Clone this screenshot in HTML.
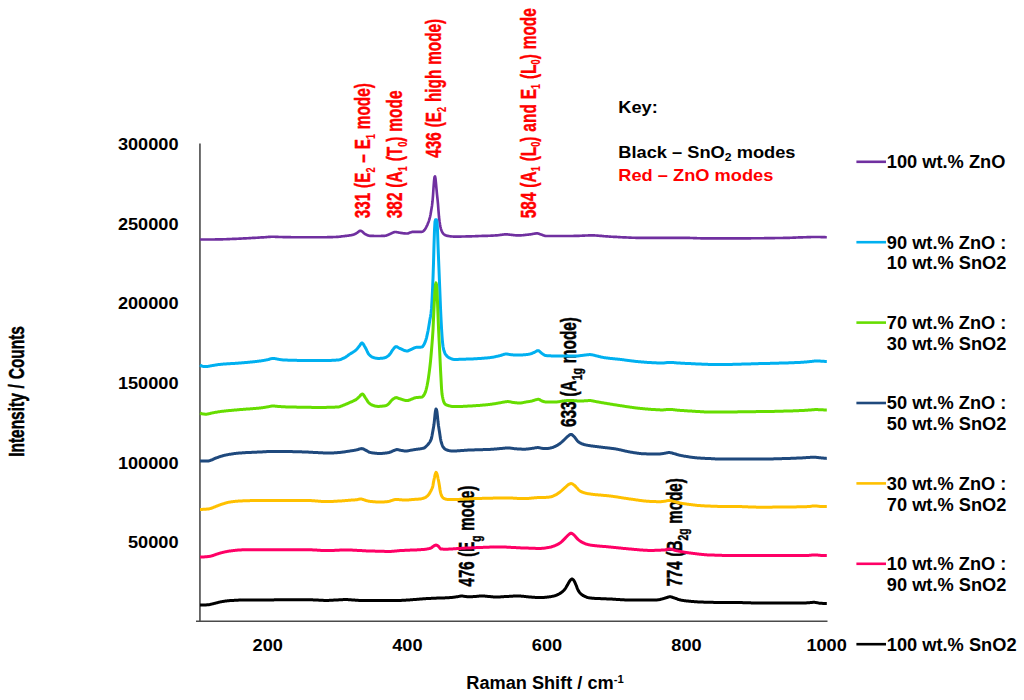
<!DOCTYPE html>
<html><head><meta charset="utf-8"><title>Raman</title>
<style>
html,body{margin:0;padding:0;background:#fff;}
body{width:1024px;height:700px;overflow:hidden;font-family:"Liberation Sans",sans-serif;}
svg{display:block;}
text{font-family:"Liberation Sans",sans-serif;font-weight:bold;}
</style></head><body>
<svg width="1024" height="700" viewBox="0 0 1024 700">
<rect width="1024" height="700" fill="#fff"/>
<line x1="199.95" y1="143.5" x2="199.95" y2="621.5" stroke="#3e3e3e" stroke-width="1.5"/>
<line x1="196" y1="621.3" x2="827.5" y2="621.25" stroke="#4a4a4a" stroke-width="1.4"/>
<text transform="translate(178.5,150.2) scale(1.05,1)" text-anchor="end" font-size="17.3" fill="#000" >300000</text>
<text transform="translate(178.5,229.79999999999998) scale(1.05,1)" text-anchor="end" font-size="17.3" fill="#000" >250000</text>
<text transform="translate(178.5,309.4) scale(1.05,1)" text-anchor="end" font-size="17.3" fill="#000" >200000</text>
<text transform="translate(178.5,389.0) scale(1.05,1)" text-anchor="end" font-size="17.3" fill="#000" >150000</text>
<text transform="translate(178.5,468.59999999999997) scale(1.05,1)" text-anchor="end" font-size="17.3" fill="#000" >100000</text>
<text transform="translate(178.5,548.2) scale(1.05,1)" text-anchor="end" font-size="17.3" fill="#000" >50000</text>
<text transform="translate(267.7,651.4) scale(1.05,1)" text-anchor="middle" font-size="17.3" fill="#000" >200</text>
<text transform="translate(407.4,651.4) scale(1.05,1)" text-anchor="middle" font-size="17.3" fill="#000" >400</text>
<text transform="translate(547,651.4) scale(1.05,1)" text-anchor="middle" font-size="17.3" fill="#000" >600</text>
<text transform="translate(686.5,651.4) scale(1.05,1)" text-anchor="middle" font-size="17.3" fill="#000" >800</text>
<text transform="translate(826.6,651.4) scale(1.05,1)" text-anchor="middle" font-size="17.3" fill="#000" >1000</text>
<text transform="translate(466.3,689.4) scale(0.982,1)" text-anchor="start" font-size="18.5" fill="#000" >Raman Shift / cm<tspan font-size="11.5" dy="-6.5">-1</tspan></text>
<text transform="translate(24.4,456.8) rotate(-90) scale(0.703,1)" font-size="22" fill="#000" stroke="#000" stroke-width="0.5" stroke-linejoin="round" word-spacing="0.8">Intensity / Counts</text>
<text transform="translate(370.0,218.3) rotate(-90) scale(0.7233,1)" font-size="21.2" fill="#FF0000" stroke="#FF0000" stroke-width="0.4" stroke-linejoin="round" word-spacing="0.8">331 (E<tspan font-size="12.5" dy="4.5" stroke-width="0.15">2</tspan><tspan dy="-4.5" font-size="1">&#8203;</tspan> – E<tspan font-size="12.5" dy="4.5" stroke-width="0.15">1</tspan><tspan dy="-4.5" font-size="1">&#8203;</tspan> mode)</text>
<text transform="translate(402.1,218.3) rotate(-90) scale(0.7295,1)" font-size="21.2" fill="#FF0000" stroke="#FF0000" stroke-width="0.4" stroke-linejoin="round" word-spacing="0.8">382 (A<tspan font-size="12.5" dy="4.5" stroke-width="0.15">1</tspan><tspan dy="-4.5" font-size="1">&#8203;</tspan> (T<tspan font-size="12.5" dy="4.5" stroke-width="0.15">0</tspan><tspan dy="-4.5" font-size="1">&#8203;</tspan>) mode</text>
<text transform="translate(441.0,157.7) rotate(-90) scale(0.7233,1)" font-size="21.2" fill="#FF0000" stroke="#FF0000" stroke-width="0.4" stroke-linejoin="round" word-spacing="0.8">436 (E<tspan font-size="12.5" dy="4.5" stroke-width="0.15">2</tspan><tspan dy="-4.5" font-size="1">&#8203;</tspan> high mode)</text>
<text transform="translate(535.8,218.3) rotate(-90) scale(0.7295,1)" font-size="21.2" fill="#FF0000" stroke="#FF0000" stroke-width="0.4" stroke-linejoin="round" word-spacing="0.8">584 (A<tspan font-size="12.5" dy="4.5" stroke-width="0.15">1</tspan><tspan dy="-4.5" font-size="1">&#8203;</tspan> (L<tspan font-size="12.5" dy="4.5" stroke-width="0.15">0</tspan><tspan dy="-4.5" font-size="1">&#8203;</tspan>) and E<tspan font-size="12.5" dy="4.5" stroke-width="0.15">1</tspan><tspan dy="-4.5" font-size="1">&#8203;</tspan> (L<tspan font-size="12.5" dy="4.5" stroke-width="0.15">0</tspan><tspan dy="-4.5" font-size="1">&#8203;</tspan>) mode</text>
<text transform="translate(575.9,427.0) rotate(-90) scale(0.7,1)" font-size="22" fill="#000" stroke="#000" stroke-width="0.5" stroke-linejoin="round" word-spacing="0.8">633 (A<tspan font-size="15" dy="6.3" stroke-width="0.4">1g</tspan><tspan dy="-6.3" font-size="1">&#8203;</tspan> mode)</text>
<text transform="translate(474.2,586.4) rotate(-90) scale(0.682,1)" font-size="22" fill="#000" stroke="#000" stroke-width="0.5" stroke-linejoin="round" word-spacing="0.8">476 (E<tspan font-size="15" dy="6.3" stroke-width="0.4">g</tspan><tspan dy="-6.3" font-size="1">&#8203;</tspan> mode)</text>
<text transform="translate(681.8,586.6) rotate(-90) scale(0.69,1)" font-size="22" fill="#000" stroke="#000" stroke-width="0.5" stroke-linejoin="round" word-spacing="0.8">774 (B<tspan font-size="15" dy="6.3" stroke-width="0.4">2g</tspan><tspan dy="-6.3" font-size="1">&#8203;</tspan> mode)</text>
<path d="M200.0,239.5 L200.5,239.5 L201.0,239.5 L201.5,239.5 L202.0,239.5 L202.5,239.5 L203.0,239.5 L203.5,239.5 L204.0,239.5 L204.5,239.5 L205.0,239.5 L205.5,239.5 L206.0,239.5 L206.5,239.5 L207.0,239.5 L207.5,239.5 L208.0,239.5 L208.5,239.5 L209.0,239.5 L209.5,239.5 L210.0,239.5 L210.5,239.5 L211.0,239.5 L211.5,239.5 L212.0,239.5 L212.5,239.5 L213.0,239.5 L213.5,239.5 L214.0,239.5 L214.5,239.5 L215.0,239.5 L215.5,239.4 L216.0,239.4 L216.5,239.4 L217.0,239.4 L217.5,239.4 L218.0,239.4 L218.5,239.4 L219.0,239.4 L219.5,239.4 L220.0,239.3 L220.5,239.3 L221.0,239.3 L221.5,239.3 L222.0,239.3 L222.5,239.3 L223.0,239.3 L223.5,239.2 L224.0,239.2 L224.5,239.2 L225.0,239.2 L225.5,239.2 L226.0,239.2 L226.5,239.2 L227.0,239.1 L227.5,239.1 L228.0,239.1 L228.5,239.1 L229.0,239.1 L229.5,239.1 L230.0,239.0 L230.5,239.0 L231.0,239.0 L231.5,239.0 L232.0,239.0 L232.5,238.9 L233.0,238.9 L233.5,238.9 L234.0,238.9 L234.5,238.8 L235.0,238.8 L235.5,238.8 L236.0,238.8 L236.5,238.8 L237.0,238.7 L237.5,238.7 L238.0,238.7 L238.5,238.7 L239.0,238.6 L239.5,238.6 L240.0,238.6 L240.5,238.6 L241.0,238.6 L241.5,238.5 L242.0,238.5 L242.5,238.5 L243.0,238.5 L243.5,238.4 L244.0,238.4 L244.5,238.4 L245.0,238.4 L245.5,238.3 L246.0,238.3 L246.5,238.3 L247.0,238.2 L247.5,238.2 L248.0,238.2 L248.5,238.2 L249.0,238.1 L249.5,238.1 L250.0,238.1 L250.5,238.1 L251.0,238.0 L251.5,238.0 L252.0,238.0 L252.5,237.9 L253.0,237.9 L253.5,237.9 L254.0,237.9 L254.5,237.8 L255.0,237.8 L255.5,237.8 L256.0,237.7 L256.5,237.7 L257.0,237.7 L257.5,237.7 L258.0,237.6 L258.5,237.6 L259.0,237.6 L259.5,237.5 L260.0,237.5 L260.5,237.5 L261.0,237.4 L261.5,237.4 L262.0,237.4 L262.5,237.4 L263.0,237.3 L263.5,237.3 L264.0,237.3 L264.5,237.2 L265.0,237.2 L265.5,237.2 L266.0,237.1 L266.5,237.1 L267.0,237.0 L267.5,237.0 L268.0,237.0 L268.5,236.9 L269.0,236.9 L269.5,236.8 L270.0,236.8 L270.5,236.8 L271.0,236.7 L271.5,236.7 L272.0,236.7 L272.5,236.7 L273.0,236.7 L273.5,236.7 L274.0,236.7 L274.5,236.7 L275.0,236.8 L275.5,236.8 L276.0,236.8 L276.5,236.8 L277.0,236.9 L277.5,236.9 L278.0,236.9 L278.5,237.0 L279.0,237.0 L279.5,237.0 L280.0,237.0 L280.5,237.0 L281.0,237.0 L281.5,237.0 L282.0,237.0 L282.5,237.0 L283.0,237.1 L283.5,237.1 L284.0,237.1 L284.5,237.1 L285.0,237.1 L285.5,237.1 L286.0,237.1 L286.5,237.1 L287.0,237.1 L287.5,237.1 L288.0,237.1 L288.5,237.1 L289.0,237.1 L289.5,237.1 L290.0,237.1 L290.5,237.1 L291.0,237.2 L291.5,237.2 L292.0,237.2 L292.5,237.2 L293.0,237.2 L293.5,237.2 L294.0,237.2 L294.5,237.2 L295.0,237.2 L295.5,237.2 L296.0,237.2 L296.5,237.2 L297.0,237.2 L297.5,237.2 L298.0,237.2 L298.5,237.2 L299.0,237.2 L299.5,237.2 L300.0,237.2 L300.5,237.2 L301.0,237.2 L301.5,237.2 L302.0,237.2 L302.5,237.2 L303.0,237.2 L303.5,237.2 L304.0,237.2 L304.5,237.2 L305.0,237.2 L305.5,237.2 L306.0,237.2 L306.5,237.2 L307.0,237.2 L307.5,237.2 L308.0,237.2 L308.5,237.2 L309.0,237.2 L309.5,237.2 L310.0,237.2 L310.5,237.2 L311.0,237.2 L311.5,237.2 L312.0,237.2 L312.5,237.2 L313.0,237.2 L313.5,237.2 L314.0,237.2 L314.5,237.2 L315.0,237.2 L315.5,237.2 L316.0,237.2 L316.5,237.2 L317.0,237.2 L317.5,237.2 L318.0,237.2 L318.5,237.2 L319.0,237.2 L319.5,237.2 L320.0,237.2 L320.5,237.2 L321.0,237.2 L321.5,237.2 L322.0,237.2 L322.5,237.2 L323.0,237.2 L323.5,237.2 L324.0,237.2 L324.5,237.2 L325.0,237.2 L325.5,237.2 L326.0,237.2 L326.5,237.2 L327.0,237.2 L327.5,237.1 L328.0,237.1 L328.5,237.1 L329.0,237.1 L329.5,237.1 L330.0,237.1 L330.5,237.1 L331.0,237.1 L331.5,237.1 L332.0,237.1 L332.5,237.1 L333.0,237.0 L333.5,237.0 L334.0,237.0 L334.5,237.0 L335.0,237.0 L335.5,237.0 L336.0,237.0 L336.5,236.9 L337.0,236.9 L337.5,236.9 L338.0,236.8 L338.5,236.8 L339.0,236.7 L339.5,236.7 L340.0,236.6 L340.5,236.6 L341.0,236.5 L341.5,236.4 L342.0,236.4 L342.5,236.3 L343.0,236.2 L343.5,236.2 L344.0,236.1 L344.5,236.1 L345.0,236.0 L345.5,235.9 L346.0,235.9 L346.5,235.8 L347.0,235.8 L347.5,235.7 L348.0,235.6 L348.5,235.6 L349.0,235.5 L349.5,235.4 L350.0,235.4 L350.5,235.3 L351.0,235.2 L351.5,235.1 L352.0,235.0 L352.5,234.9 L353.0,234.7 L353.5,234.6 L354.0,234.4 L354.5,234.2 L355.0,234.0 L355.5,233.7 L356.0,233.5 L356.5,233.2 L357.0,232.9 L357.5,232.5 L358.0,232.1 L358.5,231.7 L359.0,231.3 L359.5,231.0 L360.0,230.8 L360.5,230.8 L361.0,230.8 L361.5,231.1 L362.0,231.4 L362.5,231.9 L363.0,232.3 L363.5,232.8 L364.0,233.3 L364.5,233.7 L365.0,234.0 L365.5,234.2 L366.0,234.5 L366.5,234.7 L367.0,235.0 L367.5,235.2 L368.0,235.4 L368.5,235.5 L369.0,235.7 L369.5,235.8 L370.0,235.8 L370.5,235.8 L371.0,235.8 L371.5,235.9 L372.0,235.9 L372.5,235.9 L373.0,235.9 L373.5,235.9 L374.0,236.0 L374.5,236.0 L375.0,236.0 L375.5,236.0 L376.0,236.0 L376.5,236.0 L377.0,236.0 L377.5,236.0 L378.0,236.0 L378.5,236.0 L379.0,236.0 L379.5,236.0 L380.0,236.0 L380.5,236.0 L381.0,236.0 L381.5,235.9 L382.0,235.9 L382.5,235.9 L383.0,235.9 L383.5,235.9 L384.0,235.8 L384.5,235.8 L385.0,235.8 L385.5,235.7 L386.0,235.6 L386.5,235.5 L387.0,235.3 L387.5,235.1 L388.0,234.9 L388.5,234.6 L389.0,234.4 L389.5,234.2 L390.0,234.0 L390.5,233.8 L391.0,233.6 L391.5,233.3 L392.0,233.1 L392.5,232.9 L393.0,232.6 L393.5,232.4 L394.0,232.3 L394.5,232.1 L395.0,232.0 L395.5,232.0 L396.0,232.0 L396.5,232.1 L397.0,232.2 L397.5,232.3 L398.0,232.4 L398.5,232.5 L399.0,232.6 L399.5,232.7 L400.0,232.8 L400.5,232.9 L401.0,232.9 L401.5,233.0 L402.0,233.1 L402.5,233.1 L403.0,233.2 L403.5,233.3 L404.0,233.3 L404.5,233.4 L405.0,233.4 L405.5,233.5 L406.0,233.5 L406.5,233.5 L407.0,233.5 L407.5,233.5 L408.0,233.4 L408.5,233.2 L409.0,233.0 L409.5,232.8 L410.0,232.6 L410.5,232.4 L411.0,232.2 L411.5,232.1 L412.0,232.0 L412.5,231.9 L413.0,231.9 L413.5,231.8 L414.0,231.8 L414.5,231.8 L415.0,231.8 L415.5,231.8 L416.0,231.8 L416.5,231.8 L417.0,231.8 L417.5,231.9 L418.0,231.9 L418.5,231.9 L419.0,231.9 L419.5,231.9 L420.0,231.9 L420.5,231.9 L421.0,231.9 L421.5,231.8 L422.0,231.8 L422.5,231.7 L423.0,231.4 L423.5,231.0 L424.0,230.5 L424.5,230.0 L425.0,229.3 L425.5,228.5 L426.0,227.6 L426.5,226.7 L427.0,225.7 L427.5,224.6 L428.0,223.3 L428.5,222.0 L429.0,220.6 L429.5,219.0 L430.0,217.1 L430.5,214.7 L431.0,211.8 L431.5,208.8 L432.0,205.7 L432.5,201.5 L433.0,195.6 L433.5,188.0 L434.0,181.5 L434.5,177.2 L435.0,176.3 L435.5,178.6 L436.0,183.6 L436.5,189.1 L437.0,194.3 L437.5,199.0 L438.0,204.2 L438.5,210.9 L439.0,217.0 L439.5,221.2 L440.0,224.4 L440.5,227.0 L441.0,229.1 L441.5,230.5 L442.0,231.6 L442.5,232.5 L443.0,233.3 L443.5,233.9 L444.0,234.4 L444.5,234.7 L445.0,235.1 L445.5,235.3 L446.0,235.5 L446.5,235.6 L447.0,235.8 L447.5,235.8 L448.0,235.9 L448.5,236.0 L449.0,236.1 L449.5,236.2 L450.0,236.3 L450.5,236.4 L451.0,236.4 L451.5,236.5 L452.0,236.5 L452.5,236.5 L453.0,236.5 L453.5,236.6 L454.0,236.6 L454.5,236.6 L455.0,236.6 L455.5,236.6 L456.0,236.6 L456.5,236.6 L457.0,236.6 L457.5,236.6 L458.0,236.6 L458.5,236.6 L459.0,236.6 L459.5,236.6 L460.0,236.6 L460.5,236.6 L461.0,236.6 L461.5,236.5 L462.0,236.5 L462.5,236.5 L463.0,236.5 L463.5,236.5 L464.0,236.5 L464.5,236.5 L465.0,236.5 L465.5,236.5 L466.0,236.4 L466.5,236.4 L467.0,236.4 L467.5,236.4 L468.0,236.4 L468.5,236.4 L469.0,236.4 L469.5,236.3 L470.0,236.3 L470.5,236.3 L471.0,236.3 L471.5,236.3 L472.0,236.3 L472.5,236.2 L473.0,236.2 L473.5,236.2 L474.0,236.2 L474.5,236.2 L475.0,236.2 L475.5,236.1 L476.0,236.1 L476.5,236.1 L477.0,236.1 L477.5,236.1 L478.0,236.1 L478.5,236.0 L479.0,236.0 L479.5,236.0 L480.0,236.0 L480.5,236.0 L481.0,236.0 L481.5,236.0 L482.0,235.9 L482.5,235.9 L483.0,235.9 L483.5,235.9 L484.0,235.9 L484.5,235.9 L485.0,235.8 L485.5,235.8 L486.0,235.8 L486.5,235.8 L487.0,235.8 L487.5,235.8 L488.0,235.8 L488.5,235.7 L489.0,235.7 L489.5,235.7 L490.0,235.7 L490.5,235.7 L491.0,235.6 L491.5,235.6 L492.0,235.6 L492.5,235.6 L493.0,235.6 L493.5,235.5 L494.0,235.5 L494.5,235.5 L495.0,235.5 L495.5,235.4 L496.0,235.4 L496.5,235.4 L497.0,235.3 L497.5,235.3 L498.0,235.2 L498.5,235.2 L499.0,235.1 L499.5,235.0 L500.0,235.0 L500.5,234.9 L501.0,234.8 L501.5,234.8 L502.0,234.7 L502.5,234.6 L503.0,234.6 L503.5,234.5 L504.0,234.5 L504.5,234.4 L505.0,234.4 L505.5,234.4 L506.0,234.4 L506.5,234.4 L507.0,234.4 L507.5,234.4 L508.0,234.5 L508.5,234.5 L509.0,234.6 L509.5,234.6 L510.0,234.7 L510.5,234.7 L511.0,234.8 L511.5,234.8 L512.0,234.9 L512.5,235.0 L513.0,235.0 L513.5,235.1 L514.0,235.1 L514.5,235.2 L515.0,235.2 L515.5,235.3 L516.0,235.3 L516.5,235.4 L517.0,235.4 L517.5,235.4 L518.0,235.4 L518.5,235.4 L519.0,235.4 L519.5,235.4 L520.0,235.4 L520.5,235.3 L521.0,235.3 L521.5,235.3 L522.0,235.2 L522.5,235.2 L523.0,235.2 L523.5,235.1 L524.0,235.1 L524.5,235.0 L525.0,235.0 L525.5,234.9 L526.0,234.9 L526.5,234.8 L527.0,234.7 L527.5,234.7 L528.0,234.6 L528.5,234.6 L529.0,234.5 L529.5,234.5 L530.0,234.4 L530.5,234.3 L531.0,234.3 L531.5,234.2 L532.0,234.1 L532.5,234.0 L533.0,233.9 L533.5,233.8 L534.0,233.7 L534.5,233.6 L535.0,233.6 L535.5,233.5 L536.0,233.4 L536.5,233.4 L537.0,233.4 L537.5,233.4 L538.0,233.5 L538.5,233.6 L539.0,233.8 L539.5,234.0 L540.0,234.2 L540.5,234.3 L541.0,234.5 L541.5,234.7 L542.0,234.8 L542.5,235.0 L543.0,235.2 L543.5,235.4 L544.0,235.6 L544.5,235.8 L545.0,235.9 L545.5,236.0 L546.0,236.0 L546.5,236.0 L547.0,236.0 L547.5,236.0 L548.0,236.0 L548.5,236.0 L549.0,236.0 L549.5,236.0 L550.0,236.0 L550.5,236.0 L551.0,236.0 L551.5,236.0 L552.0,236.0 L552.5,236.0 L553.0,236.0 L553.5,236.0 L554.0,236.0 L554.5,236.0 L555.0,236.0 L555.5,236.0 L556.0,236.0 L556.5,236.0 L557.0,236.0 L557.5,236.0 L558.0,236.0 L558.5,236.0 L559.0,236.0 L559.5,236.0 L560.0,236.0 L560.5,236.0 L561.0,236.0 L561.5,236.0 L562.0,236.0 L562.5,236.0 L563.0,236.0 L563.5,236.0 L564.0,236.0 L564.5,236.0 L565.0,236.0 L565.5,236.0 L566.0,236.0 L566.5,236.0 L567.0,236.0 L567.5,236.0 L568.0,236.0 L568.5,236.0 L569.0,236.0 L569.5,236.0 L570.0,236.0 L570.5,236.0 L571.0,236.0 L571.5,236.0 L572.0,236.0 L572.5,236.0 L573.0,236.0 L573.5,236.0 L574.0,235.9 L574.5,235.9 L575.0,235.9 L575.5,235.9 L576.0,235.9 L576.5,235.9 L577.0,235.9 L577.5,235.8 L578.0,235.8 L578.5,235.8 L579.0,235.8 L579.5,235.8 L580.0,235.7 L580.5,235.7 L581.0,235.7 L581.5,235.7 L582.0,235.7 L582.5,235.6 L583.0,235.6 L583.5,235.6 L584.0,235.6 L584.5,235.6 L585.0,235.5 L585.5,235.5 L586.0,235.5 L586.5,235.5 L587.0,235.5 L587.5,235.5 L588.0,235.5 L588.5,235.4 L589.0,235.4 L589.5,235.4 L590.0,235.4 L590.5,235.4 L591.0,235.4 L591.5,235.4 L592.0,235.4 L592.5,235.4 L593.0,235.4 L593.5,235.4 L594.0,235.4 L594.5,235.4 L595.0,235.5 L595.5,235.5 L596.0,235.5 L596.5,235.5 L597.0,235.6 L597.5,235.6 L598.0,235.6 L598.5,235.7 L599.0,235.7 L599.5,235.8 L600.0,235.8 L600.5,235.8 L601.0,235.9 L601.5,235.9 L602.0,236.0 L602.5,236.0 L603.0,236.1 L603.5,236.1 L604.0,236.2 L604.5,236.2 L605.0,236.2 L605.5,236.3 L606.0,236.3 L606.5,236.4 L607.0,236.4 L607.5,236.4 L608.0,236.5 L608.5,236.5 L609.0,236.5 L609.5,236.6 L610.0,236.6 L610.5,236.6 L611.0,236.7 L611.5,236.7 L612.0,236.7 L612.5,236.7 L613.0,236.8 L613.5,236.8 L614.0,236.8 L614.5,236.8 L615.0,236.9 L615.5,236.9 L616.0,236.9 L616.5,236.9 L617.0,237.0 L617.5,237.0 L618.0,237.0 L618.5,237.1 L619.0,237.1 L619.5,237.1 L620.0,237.1 L620.5,237.2 L621.0,237.2 L621.5,237.2 L622.0,237.2 L622.5,237.3 L623.0,237.3 L623.5,237.3 L624.0,237.3 L624.5,237.4 L625.0,237.4 L625.5,237.4 L626.0,237.4 L626.5,237.5 L627.0,237.5 L627.5,237.5 L628.0,237.5 L628.5,237.5 L629.0,237.6 L629.5,237.6 L630.0,237.6 L630.5,237.6 L631.0,237.6 L631.5,237.7 L632.0,237.7 L632.5,237.7 L633.0,237.7 L633.5,237.7 L634.0,237.7 L634.5,237.7 L635.0,237.7 L635.5,237.8 L636.0,237.8 L636.5,237.8 L637.0,237.8 L637.5,237.8 L638.0,237.8 L638.5,237.8 L639.0,237.8 L639.5,237.8 L640.0,237.8 L640.5,237.8 L641.0,237.8 L641.5,237.8 L642.0,237.8 L642.5,237.8 L643.0,237.8 L643.5,237.8 L644.0,237.8 L644.5,237.8 L645.0,237.8 L645.5,237.8 L646.0,237.8 L646.5,237.8 L647.0,237.8 L647.5,237.8 L648.0,237.8 L648.5,237.8 L649.0,237.8 L649.5,237.8 L650.0,237.8 L650.5,237.8 L651.0,237.8 L651.5,237.8 L652.0,237.8 L652.5,237.8 L653.0,237.8 L653.5,237.8 L654.0,237.8 L654.5,237.8 L655.0,237.8 L655.5,237.8 L656.0,237.8 L656.5,237.8 L657.0,237.8 L657.5,237.8 L658.0,237.8 L658.5,237.8 L659.0,237.8 L659.5,237.8 L660.0,237.8 L660.5,237.8 L661.0,237.8 L661.5,237.8 L662.0,237.8 L662.5,237.8 L663.0,237.8 L663.5,237.8 L664.0,237.8 L664.5,237.8 L665.0,237.8 L665.5,237.8 L666.0,237.8 L666.5,237.8 L667.0,237.8 L667.5,237.8 L668.0,237.8 L668.5,237.8 L669.0,237.8 L669.5,237.8 L670.0,237.8 L670.5,237.8 L671.0,237.8 L671.5,237.8 L672.0,237.8 L672.5,237.8 L673.0,237.8 L673.5,237.8 L674.0,237.8 L674.5,237.8 L675.0,237.8 L675.5,237.8 L676.0,237.8 L676.5,237.8 L677.0,237.8 L677.5,237.8 L678.0,237.8 L678.5,237.8 L679.0,237.8 L679.5,237.8 L680.0,237.8 L680.5,237.8 L681.0,237.8 L681.5,237.8 L682.0,237.8 L682.5,237.8 L683.0,237.8 L683.5,237.8 L684.0,237.8 L684.5,237.8 L685.0,237.8 L685.5,237.9 L686.0,237.9 L686.5,237.9 L687.0,237.9 L687.5,237.9 L688.0,237.9 L688.5,237.9 L689.0,237.9 L689.5,237.9 L690.0,238.0 L690.5,238.0 L691.0,238.0 L691.5,238.0 L692.0,238.0 L692.5,238.0 L693.0,238.0 L693.5,238.1 L694.0,238.1 L694.5,238.1 L695.0,238.1 L695.5,238.1 L696.0,238.1 L696.5,238.1 L697.0,238.2 L697.5,238.2 L698.0,238.2 L698.5,238.2 L699.0,238.2 L699.5,238.2 L700.0,238.2 L700.5,238.3 L701.0,238.3 L701.5,238.3 L702.0,238.3 L702.5,238.3 L703.0,238.3 L703.5,238.3 L704.0,238.3 L704.5,238.3 L705.0,238.4 L705.5,238.4 L706.0,238.4 L706.5,238.4 L707.0,238.4 L707.5,238.4 L708.0,238.4 L708.5,238.4 L709.0,238.4 L709.5,238.4 L710.0,238.4 L710.5,238.4 L711.0,238.4 L711.5,238.4 L712.0,238.4 L712.5,238.4 L713.0,238.4 L713.5,238.4 L714.0,238.4 L714.5,238.4 L715.0,238.4 L715.5,238.4 L716.0,238.4 L716.5,238.4 L717.0,238.4 L717.5,238.4 L718.0,238.4 L718.5,238.4 L719.0,238.4 L719.5,238.4 L720.0,238.4 L720.5,238.4 L721.0,238.4 L721.5,238.4 L722.0,238.4 L722.5,238.4 L723.0,238.4 L723.5,238.4 L724.0,238.4 L724.5,238.4 L725.0,238.4 L725.5,238.4 L726.0,238.4 L726.5,238.4 L727.0,238.4 L727.5,238.4 L728.0,238.4 L728.5,238.4 L729.0,238.4 L729.5,238.4 L730.0,238.4 L730.5,238.4 L731.0,238.4 L731.5,238.4 L732.0,238.4 L732.5,238.4 L733.0,238.4 L733.5,238.3 L734.0,238.3 L734.5,238.3 L735.0,238.3 L735.5,238.3 L736.0,238.3 L736.5,238.3 L737.0,238.3 L737.5,238.3 L738.0,238.3 L738.5,238.3 L739.0,238.3 L739.5,238.3 L740.0,238.3 L740.5,238.3 L741.0,238.3 L741.5,238.3 L742.0,238.3 L742.5,238.3 L743.0,238.3 L743.5,238.3 L744.0,238.3 L744.5,238.3 L745.0,238.3 L745.5,238.3 L746.0,238.3 L746.5,238.3 L747.0,238.3 L747.5,238.3 L748.0,238.3 L748.5,238.3 L749.0,238.3 L749.5,238.3 L750.0,238.3 L750.5,238.3 L751.0,238.3 L751.5,238.2 L752.0,238.2 L752.5,238.2 L753.0,238.2 L753.5,238.2 L754.0,238.2 L754.5,238.2 L755.0,238.2 L755.5,238.2 L756.0,238.2 L756.5,238.2 L757.0,238.2 L757.5,238.2 L758.0,238.2 L758.5,238.2 L759.0,238.2 L759.5,238.2 L760.0,238.2 L760.5,238.2 L761.0,238.2 L761.5,238.2 L762.0,238.2 L762.5,238.2 L763.0,238.2 L763.5,238.2 L764.0,238.2 L764.5,238.1 L765.0,238.1 L765.5,238.1 L766.0,238.1 L766.5,238.1 L767.0,238.1 L767.5,238.1 L768.0,238.1 L768.5,238.1 L769.0,238.1 L769.5,238.1 L770.0,238.1 L770.5,238.1 L771.0,238.1 L771.5,238.1 L772.0,238.1 L772.5,238.1 L773.0,238.1 L773.5,238.1 L774.0,238.1 L774.5,238.1 L775.0,238.0 L775.5,238.0 L776.0,238.0 L776.5,238.0 L777.0,238.0 L777.5,238.0 L778.0,238.0 L778.5,238.0 L779.0,238.0 L779.5,238.0 L780.0,238.0 L780.5,238.0 L781.0,238.0 L781.5,238.0 L782.0,238.0 L782.5,238.0 L783.0,238.0 L783.5,237.9 L784.0,237.9 L784.5,237.9 L785.0,237.9 L785.5,237.9 L786.0,237.9 L786.5,237.9 L787.0,237.9 L787.5,237.8 L788.0,237.8 L788.5,237.8 L789.0,237.8 L789.5,237.8 L790.0,237.8 L790.5,237.7 L791.0,237.7 L791.5,237.7 L792.0,237.7 L792.5,237.7 L793.0,237.6 L793.5,237.6 L794.0,237.6 L794.5,237.6 L795.0,237.6 L795.5,237.6 L796.0,237.5 L796.5,237.5 L797.0,237.5 L797.5,237.5 L798.0,237.5 L798.5,237.4 L799.0,237.4 L799.5,237.4 L800.0,237.4 L800.5,237.4 L801.0,237.3 L801.5,237.3 L802.0,237.3 L802.5,237.3 L803.0,237.3 L803.5,237.2 L804.0,237.2 L804.5,237.2 L805.0,237.2 L805.5,237.2 L806.0,237.2 L806.5,237.2 L807.0,237.1 L807.5,237.1 L808.0,237.1 L808.5,237.1 L809.0,237.1 L809.5,237.1 L810.0,237.1 L810.5,237.1 L811.0,237.0 L811.5,237.0 L812.0,237.0 L812.5,237.0 L813.0,237.0 L813.5,237.0 L814.0,237.0 L814.5,237.0 L815.0,237.0 L815.5,237.0 L816.0,237.0 L816.5,237.0 L817.0,237.0 L817.5,237.0 L818.0,237.0 L818.5,237.0 L819.0,237.0 L819.5,237.0 L820.0,237.0 L820.5,237.0 L821.0,237.1 L821.5,237.1 L822.0,237.1 L822.5,237.1 L823.0,237.1 L823.5,237.1 L824.0,237.1 L824.5,237.1 L825.0,237.1 L825.5,237.2 L826.0,237.2 L826.5,237.2 L826.8,237.2" fill="none" stroke="#7030A0" stroke-width="2.65" stroke-linejoin="round" stroke-linecap="butt"/>
<path d="M200.0,365.0 L200.5,365.3 L201.0,365.6 L201.5,365.9 L202.0,366.1 L202.5,366.3 L203.0,366.4 L203.5,366.5 L204.0,366.5 L204.5,366.5 L205.0,366.6 L205.5,366.6 L206.0,366.6 L206.5,366.6 L207.0,366.5 L207.5,366.5 L208.0,366.4 L208.5,366.3 L209.0,366.2 L209.5,366.1 L210.0,366.0 L210.5,365.9 L211.0,365.8 L211.5,365.7 L212.0,365.6 L212.5,365.5 L213.0,365.4 L213.5,365.4 L214.0,365.3 L214.5,365.2 L215.0,365.1 L215.5,365.0 L216.0,364.9 L216.5,364.9 L217.0,364.8 L217.5,364.7 L218.0,364.6 L218.5,364.6 L219.0,364.5 L219.5,364.5 L220.0,364.4 L220.5,364.4 L221.0,364.3 L221.5,364.3 L222.0,364.2 L222.5,364.2 L223.0,364.1 L223.5,364.1 L224.0,364.0 L224.5,364.0 L225.0,364.0 L225.5,363.9 L226.0,363.9 L226.5,363.9 L227.0,363.8 L227.5,363.8 L228.0,363.8 L228.5,363.7 L229.0,363.7 L229.5,363.7 L230.0,363.7 L230.5,363.6 L231.0,363.6 L231.5,363.6 L232.0,363.5 L232.5,363.5 L233.0,363.5 L233.5,363.4 L234.0,363.4 L234.5,363.4 L235.0,363.4 L235.5,363.3 L236.0,363.3 L236.5,363.3 L237.0,363.2 L237.5,363.2 L238.0,363.2 L238.5,363.1 L239.0,363.1 L239.5,363.0 L240.0,363.0 L240.5,363.0 L241.0,362.9 L241.5,362.9 L242.0,362.8 L242.5,362.8 L243.0,362.8 L243.5,362.7 L244.0,362.7 L244.5,362.6 L245.0,362.6 L245.5,362.5 L246.0,362.5 L246.5,362.4 L247.0,362.4 L247.5,362.4 L248.0,362.3 L248.5,362.3 L249.0,362.2 L249.5,362.2 L250.0,362.1 L250.5,362.1 L251.0,362.0 L251.5,362.0 L252.0,361.9 L252.5,361.9 L253.0,361.8 L253.5,361.8 L254.0,361.7 L254.5,361.7 L255.0,361.6 L255.5,361.6 L256.0,361.5 L256.5,361.4 L257.0,361.4 L257.5,361.3 L258.0,361.3 L258.5,361.2 L259.0,361.1 L259.5,361.1 L260.0,361.0 L260.5,360.9 L261.0,360.9 L261.5,360.8 L262.0,360.7 L262.5,360.6 L263.0,360.5 L263.5,360.5 L264.0,360.4 L264.5,360.3 L265.0,360.2 L265.5,360.1 L266.0,360.0 L266.5,359.9 L267.0,359.8 L267.5,359.7 L268.0,359.6 L268.5,359.5 L269.0,359.3 L269.5,359.2 L270.0,359.0 L270.5,358.9 L271.0,358.7 L271.5,358.6 L272.0,358.5 L272.5,358.4 L273.0,358.4 L273.5,358.4 L274.0,358.5 L274.5,358.5 L275.0,358.6 L275.5,358.7 L276.0,358.8 L276.5,358.9 L277.0,359.0 L277.5,359.1 L278.0,359.2 L278.5,359.3 L279.0,359.4 L279.5,359.4 L280.0,359.5 L280.5,359.6 L281.0,359.7 L281.5,359.7 L282.0,359.8 L282.5,359.9 L283.0,359.9 L283.5,360.0 L284.0,360.0 L284.5,360.0 L285.0,360.0 L285.5,360.1 L286.0,360.1 L286.5,360.1 L287.0,360.1 L287.5,360.1 L288.0,360.2 L288.5,360.2 L289.0,360.2 L289.5,360.2 L290.0,360.2 L290.5,360.2 L291.0,360.2 L291.5,360.3 L292.0,360.3 L292.5,360.3 L293.0,360.3 L293.5,360.3 L294.0,360.3 L294.5,360.3 L295.0,360.3 L295.5,360.3 L296.0,360.3 L296.5,360.3 L297.0,360.4 L297.5,360.4 L298.0,360.4 L298.5,360.4 L299.0,360.4 L299.5,360.4 L300.0,360.4 L300.5,360.4 L301.0,360.4 L301.5,360.4 L302.0,360.4 L302.5,360.4 L303.0,360.4 L303.5,360.5 L304.0,360.5 L304.5,360.5 L305.0,360.5 L305.5,360.5 L306.0,360.5 L306.5,360.5 L307.0,360.5 L307.5,360.5 L308.0,360.5 L308.5,360.5 L309.0,360.5 L309.5,360.5 L310.0,360.5 L310.5,360.5 L311.0,360.5 L311.5,360.6 L312.0,360.6 L312.5,360.6 L313.0,360.6 L313.5,360.6 L314.0,360.6 L314.5,360.6 L315.0,360.6 L315.5,360.6 L316.0,360.6 L316.5,360.6 L317.0,360.6 L317.5,360.6 L318.0,360.6 L318.5,360.6 L319.0,360.6 L319.5,360.6 L320.0,360.6 L320.5,360.6 L321.0,360.6 L321.5,360.6 L322.0,360.6 L322.5,360.6 L323.0,360.6 L323.5,360.6 L324.0,360.6 L324.5,360.6 L325.0,360.6 L325.5,360.5 L326.0,360.5 L326.5,360.5 L327.0,360.5 L327.5,360.5 L328.0,360.5 L328.5,360.5 L329.0,360.5 L329.5,360.4 L330.0,360.4 L330.5,360.4 L331.0,360.4 L331.5,360.4 L332.0,360.3 L332.5,360.3 L333.0,360.3 L333.5,360.3 L334.0,360.2 L334.5,360.2 L335.0,360.2 L335.5,360.2 L336.0,360.1 L336.5,360.1 L337.0,360.1 L337.5,360.0 L338.0,360.0 L338.5,359.9 L339.0,359.9 L339.5,359.8 L340.0,359.6 L340.5,359.5 L341.0,359.3 L341.5,359.1 L342.0,358.9 L342.5,358.7 L343.0,358.4 L343.5,358.2 L344.0,358.0 L344.5,357.8 L345.0,357.5 L345.5,357.2 L346.0,356.9 L346.5,356.5 L347.0,356.2 L347.5,355.8 L348.0,355.4 L348.5,355.1 L349.0,354.7 L349.5,354.3 L350.0,354.0 L350.5,353.7 L351.0,353.4 L351.5,353.1 L352.0,352.8 L352.5,352.5 L353.0,352.2 L353.5,351.8 L354.0,351.5 L354.5,351.2 L355.0,350.8 L355.5,350.4 L356.0,350.0 L356.5,349.5 L357.0,349.0 L357.5,348.4 L358.0,347.7 L358.5,347.1 L359.0,346.5 L359.5,345.8 L360.0,345.1 L360.5,344.3 L361.0,343.6 L361.5,343.2 L362.0,343.0 L362.5,343.2 L363.0,343.7 L363.5,344.4 L364.0,345.3 L364.5,346.2 L365.0,347.0 L365.5,347.9 L366.0,348.8 L366.5,349.9 L367.0,351.0 L367.5,352.1 L368.0,353.0 L368.5,353.9 L369.0,354.5 L369.5,355.0 L370.0,355.5 L370.5,355.9 L371.0,356.3 L371.5,356.7 L372.0,357.0 L372.5,357.2 L373.0,357.4 L373.5,357.6 L374.0,357.7 L374.5,357.9 L375.0,358.0 L375.5,358.1 L376.0,358.2 L376.5,358.3 L377.0,358.3 L377.5,358.4 L378.0,358.4 L378.5,358.4 L379.0,358.4 L379.5,358.4 L380.0,358.4 L380.5,358.3 L381.0,358.3 L381.5,358.3 L382.0,358.2 L382.5,358.2 L383.0,358.1 L383.5,358.1 L384.0,358.0 L384.5,357.9 L385.0,357.7 L385.5,357.5 L386.0,357.3 L386.5,357.0 L387.0,356.7 L387.5,356.3 L388.0,356.0 L388.5,355.6 L389.0,355.1 L389.5,354.6 L390.0,354.0 L390.5,353.3 L391.0,352.6 L391.5,351.7 L392.0,350.9 L392.5,350.2 L393.0,349.5 L393.5,348.9 L394.0,348.2 L394.5,347.6 L395.0,347.1 L395.5,346.7 L396.0,346.6 L396.5,346.7 L397.0,346.8 L397.5,347.1 L398.0,347.3 L398.5,347.7 L399.0,348.0 L399.5,348.3 L400.0,348.5 L400.5,348.7 L401.0,348.9 L401.5,349.2 L402.0,349.4 L402.5,349.7 L403.0,349.9 L403.5,350.1 L404.0,350.3 L404.5,350.5 L405.0,350.7 L405.5,350.8 L406.0,350.9 L406.5,351.0 L407.0,351.0 L407.5,351.0 L408.0,350.8 L408.5,350.7 L409.0,350.4 L409.5,350.2 L410.0,350.0 L410.5,349.7 L411.0,349.5 L411.5,349.3 L412.0,349.0 L412.5,348.8 L413.0,348.5 L413.5,348.3 L414.0,348.0 L414.5,347.8 L415.0,347.6 L415.5,347.5 L416.0,347.4 L416.5,347.3 L417.0,347.3 L417.5,347.3 L418.0,347.3 L418.5,347.2 L419.0,347.2 L419.5,347.2 L420.0,347.2 L420.5,347.2 L421.0,347.1 L421.5,347.1 L422.0,347.0 L422.5,346.7 L423.0,346.1 L423.5,345.3 L424.0,344.5 L424.5,343.5 L425.0,342.4 L425.5,341.0 L426.0,339.5 L426.5,337.8 L427.0,335.7 L427.5,333.4 L428.0,331.0 L428.5,328.3 L429.0,325.3 L429.5,322.2 L430.0,319.3 L430.5,316.6 L431.0,313.4 L431.5,308.9 L432.0,300.6 L432.5,290.0 L433.0,278.3 L433.5,263.3 L434.0,245.0 L434.5,230.1 L435.0,221.7 L435.5,219.8 L436.0,219.8 L436.5,219.8 L437.0,221.7 L437.5,230.2 L438.0,245.0 L438.5,257.7 L439.0,270.0 L439.5,282.5 L440.0,295.1 L440.5,307.7 L441.0,318.6 L441.5,328.0 L442.0,335.9 L442.5,342.0 L443.0,346.2 L443.5,349.0 L444.0,350.8 L444.5,352.2 L445.0,353.4 L445.5,354.3 L446.0,355.0 L446.5,355.6 L447.0,356.1 L447.5,356.6 L448.0,357.0 L448.5,357.4 L449.0,357.7 L449.5,358.0 L450.0,358.2 L450.5,358.4 L451.0,358.6 L451.5,358.8 L452.0,359.0 L452.5,359.2 L453.0,359.3 L453.5,359.4 L454.0,359.4 L454.5,359.4 L455.0,359.4 L455.5,359.4 L456.0,359.4 L456.5,359.4 L457.0,359.4 L457.5,359.4 L458.0,359.4 L458.5,359.4 L459.0,359.3 L459.5,359.3 L460.0,359.3 L460.5,359.3 L461.0,359.3 L461.5,359.3 L462.0,359.3 L462.5,359.3 L463.0,359.2 L463.5,359.2 L464.0,359.2 L464.5,359.2 L465.0,359.2 L465.5,359.2 L466.0,359.1 L466.5,359.1 L467.0,359.1 L467.5,359.1 L468.0,359.1 L468.5,359.1 L469.0,359.0 L469.5,359.0 L470.0,359.0 L470.5,359.0 L471.0,359.0 L471.5,358.9 L472.0,358.9 L472.5,358.9 L473.0,358.9 L473.5,358.9 L474.0,358.8 L474.5,358.8 L475.0,358.8 L475.5,358.8 L476.0,358.7 L476.5,358.7 L477.0,358.7 L477.5,358.6 L478.0,358.6 L478.5,358.6 L479.0,358.6 L479.5,358.5 L480.0,358.5 L480.5,358.4 L481.0,358.4 L481.5,358.4 L482.0,358.3 L482.5,358.3 L483.0,358.3 L483.5,358.2 L484.0,358.2 L484.5,358.1 L485.0,358.1 L485.5,358.0 L486.0,358.0 L486.5,358.0 L487.0,357.9 L487.5,357.9 L488.0,357.8 L488.5,357.8 L489.0,357.7 L489.5,357.7 L490.0,357.6 L490.5,357.5 L491.0,357.5 L491.5,357.4 L492.0,357.3 L492.5,357.2 L493.0,357.2 L493.5,357.1 L494.0,357.0 L494.5,356.9 L495.0,356.8 L495.5,356.6 L496.0,356.5 L496.5,356.4 L497.0,356.3 L497.5,356.2 L498.0,356.1 L498.5,356.0 L499.0,355.8 L499.5,355.7 L500.0,355.6 L500.5,355.5 L501.0,355.3 L501.5,355.2 L502.0,355.0 L502.5,354.8 L503.0,354.6 L503.5,354.5 L504.0,354.3 L504.5,354.2 L505.0,354.1 L505.5,354.0 L506.0,354.0 L506.5,354.0 L507.0,354.1 L507.5,354.1 L508.0,354.2 L508.5,354.3 L509.0,354.4 L509.5,354.5 L510.0,354.5 L510.5,354.6 L511.0,354.7 L511.5,354.8 L512.0,354.8 L512.5,354.8 L513.0,354.9 L513.5,354.9 L514.0,354.9 L514.5,354.9 L515.0,354.9 L515.5,355.0 L516.0,355.0 L516.5,355.0 L517.0,355.0 L517.5,355.0 L518.0,355.0 L518.5,355.0 L519.0,355.0 L519.5,355.0 L520.0,355.0 L520.5,355.0 L521.0,354.9 L521.5,354.9 L522.0,354.9 L522.5,354.9 L523.0,354.9 L523.5,354.8 L524.0,354.8 L524.5,354.8 L525.0,354.7 L525.5,354.7 L526.0,354.6 L526.5,354.6 L527.0,354.5 L527.5,354.4 L528.0,354.4 L528.5,354.3 L529.0,354.2 L529.5,354.1 L530.0,354.0 L530.5,353.9 L531.0,353.7 L531.5,353.6 L532.0,353.4 L532.5,353.1 L533.0,352.9 L533.5,352.7 L534.0,352.5 L534.5,352.3 L535.0,352.0 L535.5,351.7 L536.0,351.3 L536.5,351.1 L537.0,350.8 L537.5,350.7 L538.0,350.6 L538.5,350.7 L539.0,350.9 L539.5,351.3 L540.0,351.7 L540.5,352.2 L541.0,352.7 L541.5,353.1 L542.0,353.5 L542.5,353.8 L543.0,354.2 L543.5,354.5 L544.0,354.8 L544.5,355.1 L545.0,355.3 L545.5,355.5 L546.0,355.6 L546.5,355.6 L547.0,355.7 L547.5,355.7 L548.0,355.7 L548.5,355.7 L549.0,355.8 L549.5,355.8 L550.0,355.8 L550.5,355.8 L551.0,355.9 L551.5,355.9 L552.0,355.9 L552.5,355.9 L553.0,355.9 L553.5,355.9 L554.0,355.9 L554.5,355.9 L555.0,356.0 L555.5,356.0 L556.0,356.0 L556.5,356.0 L557.0,356.0 L557.5,356.0 L558.0,356.0 L558.5,356.0 L559.0,356.0 L559.5,356.0 L560.0,356.0 L560.5,356.0 L561.0,356.0 L561.5,356.0 L562.0,356.0 L562.5,356.0 L563.0,356.0 L563.5,356.0 L564.0,356.0 L564.5,356.0 L565.0,356.0 L565.5,356.0 L566.0,356.0 L566.5,356.0 L567.0,356.0 L567.5,356.0 L568.0,356.0 L568.5,356.0 L569.0,356.0 L569.5,356.0 L570.0,356.0 L570.5,356.0 L571.0,356.0 L571.5,356.0 L572.0,356.0 L572.5,356.0 L573.0,356.0 L573.5,356.0 L574.0,356.0 L574.5,356.0 L575.0,356.0 L575.5,356.0 L576.0,356.0 L576.5,356.0 L577.0,356.0 L577.5,355.9 L578.0,355.9 L578.5,355.9 L579.0,355.8 L579.5,355.8 L580.0,355.7 L580.5,355.6 L581.0,355.6 L581.5,355.5 L582.0,355.4 L582.5,355.4 L583.0,355.3 L583.5,355.3 L584.0,355.2 L584.5,355.1 L585.0,355.1 L585.5,355.0 L586.0,355.0 L586.5,354.9 L587.0,354.8 L587.5,354.8 L588.0,354.7 L588.5,354.7 L589.0,354.6 L589.5,354.6 L590.0,354.6 L590.5,354.6 L591.0,354.7 L591.5,354.7 L592.0,354.8 L592.5,354.9 L593.0,355.0 L593.5,355.1 L594.0,355.2 L594.5,355.4 L595.0,355.5 L595.5,355.6 L596.0,355.8 L596.5,355.9 L597.0,356.0 L597.5,356.1 L598.0,356.2 L598.5,356.3 L599.0,356.5 L599.5,356.6 L600.0,356.7 L600.5,356.8 L601.0,357.0 L601.5,357.1 L602.0,357.2 L602.5,357.3 L603.0,357.4 L603.5,357.5 L604.0,357.6 L604.5,357.7 L605.0,357.8 L605.5,357.8 L606.0,357.9 L606.5,358.0 L607.0,358.0 L607.5,358.1 L608.0,358.1 L608.5,358.2 L609.0,358.3 L609.5,358.3 L610.0,358.4 L610.5,358.4 L611.0,358.5 L611.5,358.5 L612.0,358.6 L612.5,358.6 L613.0,358.7 L613.5,358.7 L614.0,358.8 L614.5,358.8 L615.0,358.9 L615.5,358.9 L616.0,359.0 L616.5,359.0 L617.0,359.1 L617.5,359.1 L618.0,359.2 L618.5,359.2 L619.0,359.3 L619.5,359.3 L620.0,359.4 L620.5,359.5 L621.0,359.5 L621.5,359.6 L622.0,359.6 L622.5,359.7 L623.0,359.8 L623.5,359.8 L624.0,359.9 L624.5,360.0 L625.0,360.0 L625.5,360.1 L626.0,360.2 L626.5,360.2 L627.0,360.3 L627.5,360.4 L628.0,360.4 L628.5,360.5 L629.0,360.5 L629.5,360.6 L630.0,360.7 L630.5,360.7 L631.0,360.8 L631.5,360.9 L632.0,360.9 L632.5,361.0 L633.0,361.1 L633.5,361.1 L634.0,361.2 L634.5,361.2 L635.0,361.3 L635.5,361.4 L636.0,361.4 L636.5,361.5 L637.0,361.5 L637.5,361.6 L638.0,361.6 L638.5,361.7 L639.0,361.7 L639.5,361.8 L640.0,361.8 L640.5,361.8 L641.0,361.9 L641.5,361.9 L642.0,362.0 L642.5,362.0 L643.0,362.0 L643.5,362.1 L644.0,362.1 L644.5,362.2 L645.0,362.2 L645.5,362.2 L646.0,362.3 L646.5,362.3 L647.0,362.4 L647.5,362.4 L648.0,362.4 L648.5,362.5 L649.0,362.5 L649.5,362.5 L650.0,362.5 L650.5,362.6 L651.0,362.6 L651.5,362.6 L652.0,362.7 L652.5,362.7 L653.0,362.7 L653.5,362.7 L654.0,362.8 L654.5,362.8 L655.0,362.8 L655.5,362.8 L656.0,362.8 L656.5,362.9 L657.0,362.9 L657.5,362.9 L658.0,362.9 L658.5,362.9 L659.0,362.9 L659.5,363.0 L660.0,363.0 L660.5,363.0 L661.0,363.0 L661.5,363.0 L662.0,363.0 L662.5,363.0 L663.0,363.0 L663.5,362.9 L664.0,362.9 L664.5,362.9 L665.0,362.8 L665.5,362.8 L666.0,362.7 L666.5,362.6 L667.0,362.6 L667.5,362.5 L668.0,362.5 L668.5,362.5 L669.0,362.4 L669.5,362.4 L670.0,362.4 L670.5,362.4 L671.0,362.4 L671.5,362.4 L672.0,362.5 L672.5,362.5 L673.0,362.5 L673.5,362.6 L674.0,362.6 L674.5,362.7 L675.0,362.7 L675.5,362.8 L676.0,362.8 L676.5,362.9 L677.0,362.9 L677.5,363.0 L678.0,363.0 L678.5,363.0 L679.0,363.1 L679.5,363.1 L680.0,363.1 L680.5,363.1 L681.0,363.2 L681.5,363.2 L682.0,363.2 L682.5,363.2 L683.0,363.3 L683.5,363.3 L684.0,363.3 L684.5,363.3 L685.0,363.4 L685.5,363.4 L686.0,363.4 L686.5,363.4 L687.0,363.5 L687.5,363.5 L688.0,363.5 L688.5,363.5 L689.0,363.6 L689.5,363.6 L690.0,363.6 L690.5,363.6 L691.0,363.6 L691.5,363.7 L692.0,363.7 L692.5,363.7 L693.0,363.7 L693.5,363.8 L694.0,363.8 L694.5,363.8 L695.0,363.8 L695.5,363.9 L696.0,363.9 L696.5,363.9 L697.0,363.9 L697.5,364.0 L698.0,364.0 L698.5,364.0 L699.0,364.0 L699.5,364.1 L700.0,364.1 L700.5,364.1 L701.0,364.1 L701.5,364.1 L702.0,364.2 L702.5,364.2 L703.0,364.2 L703.5,364.2 L704.0,364.2 L704.5,364.3 L705.0,364.3 L705.5,364.3 L706.0,364.3 L706.5,364.3 L707.0,364.3 L707.5,364.3 L708.0,364.4 L708.5,364.4 L709.0,364.4 L709.5,364.4 L710.0,364.4 L710.5,364.4 L711.0,364.4 L711.5,364.4 L712.0,364.4 L712.5,364.4 L713.0,364.4 L713.5,364.5 L714.0,364.5 L714.5,364.5 L715.0,364.5 L715.5,364.5 L716.0,364.5 L716.5,364.5 L717.0,364.5 L717.5,364.5 L718.0,364.5 L718.5,364.5 L719.0,364.5 L719.5,364.5 L720.0,364.5 L720.5,364.5 L721.0,364.5 L721.5,364.5 L722.0,364.5 L722.5,364.5 L723.0,364.5 L723.5,364.5 L724.0,364.5 L724.5,364.5 L725.0,364.5 L725.5,364.5 L726.0,364.5 L726.5,364.5 L727.0,364.5 L727.5,364.4 L728.0,364.4 L728.5,364.4 L729.0,364.4 L729.5,364.4 L730.0,364.4 L730.5,364.4 L731.0,364.4 L731.5,364.4 L732.0,364.4 L732.5,364.4 L733.0,364.3 L733.5,364.3 L734.0,364.3 L734.5,364.3 L735.0,364.3 L735.5,364.3 L736.0,364.3 L736.5,364.3 L737.0,364.3 L737.5,364.2 L738.0,364.2 L738.5,364.2 L739.0,364.2 L739.5,364.2 L740.0,364.2 L740.5,364.2 L741.0,364.2 L741.5,364.1 L742.0,364.1 L742.5,364.1 L743.0,364.1 L743.5,364.1 L744.0,364.1 L744.5,364.1 L745.0,364.0 L745.5,364.0 L746.0,364.0 L746.5,364.0 L747.0,364.0 L747.5,364.0 L748.0,363.9 L748.5,363.9 L749.0,363.9 L749.5,363.9 L750.0,363.9 L750.5,363.9 L751.0,363.9 L751.5,363.8 L752.0,363.8 L752.5,363.8 L753.0,363.8 L753.5,363.8 L754.0,363.8 L754.5,363.8 L755.0,363.7 L755.5,363.7 L756.0,363.7 L756.5,363.7 L757.0,363.7 L757.5,363.7 L758.0,363.7 L758.5,363.6 L759.0,363.6 L759.5,363.6 L760.0,363.6 L760.5,363.6 L761.0,363.6 L761.5,363.6 L762.0,363.5 L762.5,363.5 L763.0,363.5 L763.5,363.5 L764.0,363.5 L764.5,363.5 L765.0,363.5 L765.5,363.5 L766.0,363.5 L766.5,363.4 L767.0,363.4 L767.5,363.4 L768.0,363.4 L768.5,363.4 L769.0,363.4 L769.5,363.4 L770.0,363.4 L770.5,363.3 L771.0,363.3 L771.5,363.3 L772.0,363.3 L772.5,363.3 L773.0,363.3 L773.5,363.3 L774.0,363.3 L774.5,363.3 L775.0,363.2 L775.5,363.2 L776.0,363.2 L776.5,363.2 L777.0,363.2 L777.5,363.2 L778.0,363.2 L778.5,363.2 L779.0,363.1 L779.5,363.1 L780.0,363.1 L780.5,363.1 L781.0,363.1 L781.5,363.1 L782.0,363.1 L782.5,363.0 L783.0,363.0 L783.5,363.0 L784.0,363.0 L784.5,363.0 L785.0,363.0 L785.5,363.0 L786.0,362.9 L786.5,362.9 L787.0,362.9 L787.5,362.9 L788.0,362.9 L788.5,362.9 L789.0,362.8 L789.5,362.8 L790.0,362.8 L790.5,362.8 L791.0,362.8 L791.5,362.8 L792.0,362.7 L792.5,362.7 L793.0,362.7 L793.5,362.7 L794.0,362.7 L794.5,362.6 L795.0,362.6 L795.5,362.6 L796.0,362.6 L796.5,362.6 L797.0,362.5 L797.5,362.5 L798.0,362.5 L798.5,362.5 L799.0,362.4 L799.5,362.4 L800.0,362.4 L800.5,362.4 L801.0,362.3 L801.5,362.3 L802.0,362.3 L802.5,362.2 L803.0,362.2 L803.5,362.2 L804.0,362.1 L804.5,362.1 L805.0,362.1 L805.5,362.0 L806.0,362.0 L806.5,361.9 L807.0,361.9 L807.5,361.8 L808.0,361.8 L808.5,361.7 L809.0,361.7 L809.5,361.6 L810.0,361.6 L810.5,361.6 L811.0,361.5 L811.5,361.4 L812.0,361.4 L812.5,361.3 L813.0,361.2 L813.5,361.2 L814.0,361.1 L814.5,361.1 L815.0,361.0 L815.5,361.0 L816.0,361.0 L816.5,361.0 L817.0,361.0 L817.5,361.0 L818.0,361.0 L818.5,361.0 L819.0,361.1 L819.5,361.1 L820.0,361.1 L820.5,361.1 L821.0,361.2 L821.5,361.2 L822.0,361.2 L822.5,361.2 L823.0,361.3 L823.5,361.3 L824.0,361.3 L824.5,361.4 L825.0,361.4 L825.5,361.5 L826.0,361.5 L826.5,361.6 L826.8,361.6" fill="none" stroke="#00B0F0" stroke-width="3.0" stroke-linejoin="round" stroke-linecap="butt"/>
<path d="M200.0,413.0 L200.5,413.2 L201.0,413.4 L201.5,413.6 L202.0,413.8 L202.5,413.9 L203.0,414.0 L203.5,414.1 L204.0,414.1 L204.5,414.1 L205.0,414.2 L205.5,414.2 L206.0,414.2 L206.5,414.2 L207.0,414.1 L207.5,414.1 L208.0,414.0 L208.5,413.9 L209.0,413.7 L209.5,413.6 L210.0,413.5 L210.5,413.3 L211.0,413.2 L211.5,413.1 L212.0,413.0 L212.5,412.9 L213.0,412.8 L213.5,412.7 L214.0,412.6 L214.5,412.5 L215.0,412.4 L215.5,412.3 L216.0,412.2 L216.5,412.2 L217.0,412.1 L217.5,412.0 L218.0,411.9 L218.5,411.8 L219.0,411.7 L219.5,411.7 L220.0,411.6 L220.5,411.5 L221.0,411.5 L221.5,411.4 L222.0,411.3 L222.5,411.3 L223.0,411.2 L223.5,411.2 L224.0,411.1 L224.5,411.1 L225.0,411.0 L225.5,410.9 L226.0,410.9 L226.5,410.8 L227.0,410.8 L227.5,410.7 L228.0,410.7 L228.5,410.6 L229.0,410.6 L229.5,410.5 L230.0,410.5 L230.5,410.4 L231.0,410.4 L231.5,410.4 L232.0,410.3 L232.5,410.3 L233.0,410.2 L233.5,410.2 L234.0,410.1 L234.5,410.1 L235.0,410.0 L235.5,410.0 L236.0,410.0 L236.5,409.9 L237.0,409.9 L237.5,409.8 L238.0,409.8 L238.5,409.7 L239.0,409.7 L239.5,409.6 L240.0,409.6 L240.5,409.6 L241.0,409.5 L241.5,409.5 L242.0,409.4 L242.5,409.4 L243.0,409.4 L243.5,409.3 L244.0,409.3 L244.5,409.2 L245.0,409.2 L245.5,409.2 L246.0,409.1 L246.5,409.1 L247.0,409.1 L247.5,409.0 L248.0,409.0 L248.5,409.0 L249.0,408.9 L249.5,408.9 L250.0,408.9 L250.5,408.8 L251.0,408.8 L251.5,408.7 L252.0,408.7 L252.5,408.7 L253.0,408.6 L253.5,408.6 L254.0,408.6 L254.5,408.5 L255.0,408.5 L255.5,408.4 L256.0,408.4 L256.5,408.3 L257.0,408.3 L257.5,408.3 L258.0,408.2 L258.5,408.2 L259.0,408.1 L259.5,408.1 L260.0,408.0 L260.5,407.9 L261.0,407.9 L261.5,407.8 L262.0,407.7 L262.5,407.7 L263.0,407.6 L263.5,407.5 L264.0,407.4 L264.5,407.4 L265.0,407.3 L265.5,407.2 L266.0,407.1 L266.5,407.0 L267.0,407.0 L267.5,406.9 L268.0,406.8 L268.5,406.7 L269.0,406.6 L269.5,406.5 L270.0,406.4 L270.5,406.3 L271.0,406.2 L271.5,406.1 L272.0,406.1 L272.5,406.0 L273.0,406.0 L273.5,406.0 L274.0,406.0 L274.5,406.1 L275.0,406.1 L275.5,406.2 L276.0,406.2 L276.5,406.3 L277.0,406.3 L277.5,406.4 L278.0,406.4 L278.5,406.4 L279.0,406.5 L279.5,406.5 L280.0,406.6 L280.5,406.6 L281.0,406.6 L281.5,406.7 L282.0,406.7 L282.5,406.7 L283.0,406.8 L283.5,406.8 L284.0,406.8 L284.5,406.8 L285.0,406.8 L285.5,406.9 L286.0,406.9 L286.5,406.9 L287.0,406.9 L287.5,406.9 L288.0,406.9 L288.5,407.0 L289.0,407.0 L289.5,407.0 L290.0,407.0 L290.5,407.0 L291.0,407.0 L291.5,407.0 L292.0,407.0 L292.5,407.1 L293.0,407.1 L293.5,407.1 L294.0,407.1 L294.5,407.1 L295.0,407.1 L295.5,407.1 L296.0,407.1 L296.5,407.1 L297.0,407.2 L297.5,407.2 L298.0,407.2 L298.5,407.2 L299.0,407.2 L299.5,407.2 L300.0,407.2 L300.5,407.2 L301.0,407.2 L301.5,407.2 L302.0,407.2 L302.5,407.2 L303.0,407.2 L303.5,407.3 L304.0,407.3 L304.5,407.3 L305.0,407.3 L305.5,407.3 L306.0,407.3 L306.5,407.3 L307.0,407.3 L307.5,407.3 L308.0,407.3 L308.5,407.3 L309.0,407.3 L309.5,407.3 L310.0,407.3 L310.5,407.3 L311.0,407.3 L311.5,407.4 L312.0,407.4 L312.5,407.4 L313.0,407.4 L313.5,407.4 L314.0,407.4 L314.5,407.4 L315.0,407.4 L315.5,407.4 L316.0,407.4 L316.5,407.4 L317.0,407.4 L317.5,407.4 L318.0,407.4 L318.5,407.4 L319.0,407.4 L319.5,407.4 L320.0,407.4 L320.5,407.4 L321.0,407.4 L321.5,407.4 L322.0,407.4 L322.5,407.4 L323.0,407.4 L323.5,407.4 L324.0,407.4 L324.5,407.4 L325.0,407.4 L325.5,407.4 L326.0,407.4 L326.5,407.4 L327.0,407.3 L327.5,407.3 L328.0,407.3 L328.5,407.3 L329.0,407.3 L329.5,407.3 L330.0,407.3 L330.5,407.3 L331.0,407.3 L331.5,407.2 L332.0,407.2 L332.5,407.2 L333.0,407.2 L333.5,407.2 L334.0,407.2 L334.5,407.2 L335.0,407.1 L335.5,407.1 L336.0,407.1 L336.5,407.1 L337.0,407.0 L337.5,407.0 L338.0,407.0 L338.5,407.0 L339.0,406.9 L339.5,406.8 L340.0,406.6 L340.5,406.4 L341.0,406.2 L341.5,406.0 L342.0,405.8 L342.5,405.6 L343.0,405.4 L343.5,405.2 L344.0,405.0 L344.5,404.8 L345.0,404.6 L345.5,404.4 L346.0,404.2 L346.5,404.0 L347.0,403.8 L347.5,403.5 L348.0,403.3 L348.5,403.1 L349.0,402.9 L349.5,402.6 L350.0,402.4 L350.5,402.2 L351.0,402.0 L351.5,401.8 L352.0,401.6 L352.5,401.3 L353.0,401.1 L353.5,400.9 L354.0,400.7 L354.5,400.4 L355.0,400.2 L355.5,399.9 L356.0,399.6 L356.5,399.3 L357.0,398.8 L357.5,398.4 L358.0,397.9 L358.5,397.5 L359.0,397.0 L359.5,396.5 L360.0,395.9 L360.5,395.4 L361.0,394.8 L361.5,394.4 L362.0,394.1 L362.5,394.0 L363.0,394.3 L363.5,394.8 L364.0,395.6 L364.5,396.4 L365.0,397.2 L365.5,398.0 L366.0,398.7 L366.5,399.5 L367.0,400.3 L367.5,401.1 L368.0,401.9 L368.5,402.5 L369.0,403.0 L369.5,403.4 L370.0,403.8 L370.5,404.2 L371.0,404.5 L371.5,404.8 L372.0,405.0 L372.5,405.2 L373.0,405.4 L373.5,405.6 L374.0,405.7 L374.5,405.8 L375.0,406.0 L375.5,406.1 L376.0,406.2 L376.5,406.3 L377.0,406.3 L377.5,406.4 L378.0,406.4 L378.5,406.4 L379.0,406.4 L379.5,406.4 L380.0,406.3 L380.5,406.3 L381.0,406.3 L381.5,406.2 L382.0,406.2 L382.5,406.1 L383.0,406.1 L383.5,406.0 L384.0,405.9 L384.5,405.9 L385.0,405.8 L385.5,405.7 L386.0,405.6 L386.5,405.4 L387.0,405.2 L387.5,404.8 L388.0,404.4 L388.5,404.0 L389.0,403.5 L389.5,402.9 L390.0,402.3 L390.5,401.6 L391.0,401.0 L391.5,400.5 L392.0,400.0 L392.5,399.5 L393.0,399.1 L393.5,398.8 L394.0,398.5 L394.5,398.2 L395.0,397.9 L395.5,397.7 L396.0,397.6 L396.5,397.6 L397.0,397.7 L397.5,397.9 L398.0,398.1 L398.5,398.3 L399.0,398.5 L399.5,398.6 L400.0,398.8 L400.5,398.9 L401.0,399.1 L401.5,399.3 L402.0,399.4 L402.5,399.6 L403.0,399.8 L403.5,399.9 L404.0,400.1 L404.5,400.2 L405.0,400.4 L405.5,400.5 L406.0,400.5 L406.5,400.6 L407.0,400.6 L407.5,400.6 L408.0,400.5 L408.5,400.3 L409.0,400.2 L409.5,400.0 L410.0,399.8 L410.5,399.6 L411.0,399.4 L411.5,399.2 L412.0,399.0 L412.5,398.8 L413.0,398.6 L413.5,398.4 L414.0,398.2 L414.5,398.0 L415.0,397.8 L415.5,397.7 L416.0,397.6 L416.5,397.5 L417.0,397.5 L417.5,397.4 L418.0,397.4 L418.5,397.4 L419.0,397.3 L419.5,397.3 L420.0,397.3 L420.5,397.2 L421.0,397.2 L421.5,397.1 L422.0,397.0 L422.5,396.8 L423.0,396.3 L423.5,395.7 L424.0,394.9 L424.5,394.0 L425.0,393.0 L425.5,391.8 L426.0,390.1 L426.5,388.2 L427.0,386.0 L427.5,383.5 L428.0,380.7 L428.5,377.5 L429.0,373.9 L429.5,370.1 L430.0,366.0 L430.5,361.4 L431.0,356.0 L431.5,350.2 L432.0,344.0 L432.5,337.6 L433.0,330.0 L433.5,319.1 L434.0,308.0 L434.5,298.4 L435.0,289.9 L435.5,284.5 L436.0,282.9 L436.5,284.4 L437.0,290.9 L437.5,302.1 L438.0,315.1 L438.5,327.7 L439.0,338.3 L439.5,348.0 L440.0,358.5 L440.5,369.2 L441.0,378.7 L441.5,388.0 L442.0,394.0 L442.5,396.8 L443.0,399.1 L443.5,401.0 L444.0,402.4 L444.5,403.4 L445.0,404.0 L445.5,404.4 L446.0,404.7 L446.5,405.0 L447.0,405.2 L447.5,405.4 L448.0,405.5 L448.5,405.7 L449.0,405.8 L449.5,405.9 L450.0,406.0 L450.5,406.1 L451.0,406.3 L451.5,406.4 L452.0,406.4 L452.5,406.5 L453.0,406.6 L453.5,406.6 L454.0,406.6 L454.5,406.6 L455.0,406.6 L455.5,406.6 L456.0,406.6 L456.5,406.6 L457.0,406.6 L457.5,406.6 L458.0,406.5 L458.5,406.5 L459.0,406.5 L459.5,406.5 L460.0,406.5 L460.5,406.5 L461.0,406.4 L461.5,406.4 L462.0,406.4 L462.5,406.4 L463.0,406.4 L463.5,406.3 L464.0,406.3 L464.5,406.3 L465.0,406.3 L465.5,406.2 L466.0,406.2 L466.5,406.2 L467.0,406.2 L467.5,406.1 L468.0,406.1 L468.5,406.1 L469.0,406.1 L469.5,406.0 L470.0,406.0 L470.5,406.0 L471.0,405.9 L471.5,405.9 L472.0,405.9 L472.5,405.9 L473.0,405.8 L473.5,405.8 L474.0,405.8 L474.5,405.7 L475.0,405.7 L475.5,405.7 L476.0,405.6 L476.5,405.6 L477.0,405.6 L477.5,405.5 L478.0,405.5 L478.5,405.5 L479.0,405.4 L479.5,405.4 L480.0,405.4 L480.5,405.3 L481.0,405.3 L481.5,405.2 L482.0,405.2 L482.5,405.1 L483.0,405.1 L483.5,405.1 L484.0,405.0 L484.5,405.0 L485.0,404.9 L485.5,404.9 L486.0,404.8 L486.5,404.8 L487.0,404.7 L487.5,404.7 L488.0,404.6 L488.5,404.6 L489.0,404.5 L489.5,404.5 L490.0,404.4 L490.5,404.3 L491.0,404.3 L491.5,404.2 L492.0,404.1 L492.5,404.1 L493.0,404.0 L493.5,403.9 L494.0,403.8 L494.5,403.7 L495.0,403.7 L495.5,403.6 L496.0,403.5 L496.5,403.4 L497.0,403.3 L497.5,403.2 L498.0,403.1 L498.5,403.0 L499.0,403.0 L499.5,402.9 L500.0,402.8 L500.5,402.7 L501.0,402.6 L501.5,402.5 L502.0,402.4 L502.5,402.3 L503.0,402.2 L503.5,402.1 L504.0,402.0 L504.5,402.0 L505.0,401.9 L505.5,401.8 L506.0,401.7 L506.5,401.7 L507.0,401.6 L507.5,401.6 L508.0,401.6 L508.5,401.6 L509.0,401.7 L509.5,401.7 L510.0,401.8 L510.5,401.9 L511.0,402.0 L511.5,402.1 L512.0,402.3 L512.5,402.4 L513.0,402.5 L513.5,402.5 L514.0,402.6 L514.5,402.6 L515.0,402.7 L515.5,402.7 L516.0,402.8 L516.5,402.8 L517.0,402.9 L517.5,402.9 L518.0,402.9 L518.5,403.0 L519.0,403.0 L519.5,403.0 L520.0,403.0 L520.5,403.0 L521.0,402.9 L521.5,402.9 L522.0,402.8 L522.5,402.7 L523.0,402.6 L523.5,402.5 L524.0,402.4 L524.5,402.3 L525.0,402.2 L525.5,402.1 L526.0,402.0 L526.5,401.9 L527.0,401.8 L527.5,401.8 L528.0,401.7 L528.5,401.6 L529.0,401.5 L529.5,401.5 L530.0,401.4 L530.5,401.3 L531.0,401.2 L531.5,401.1 L532.0,401.0 L532.5,400.9 L533.0,400.7 L533.5,400.5 L534.0,400.3 L534.5,400.1 L535.0,400.0 L535.5,399.9 L536.0,399.7 L536.5,399.6 L537.0,399.5 L537.5,399.4 L538.0,399.3 L538.5,399.3 L539.0,399.4 L539.5,399.6 L540.0,399.9 L540.5,400.2 L541.0,400.5 L541.5,400.8 L542.0,401.0 L542.5,401.2 L543.0,401.3 L543.5,401.5 L544.0,401.7 L544.5,401.8 L545.0,401.9 L545.5,402.0 L546.0,402.0 L546.5,402.0 L547.0,402.0 L547.5,402.0 L548.0,402.0 L548.5,402.0 L549.0,402.0 L549.5,402.0 L550.0,402.0 L550.5,402.0 L551.0,402.0 L551.5,402.0 L552.0,402.0 L552.5,402.0 L553.0,402.0 L553.5,402.0 L554.0,402.0 L554.5,402.0 L555.0,402.0 L555.5,402.0 L556.0,402.0 L556.5,402.0 L557.0,402.0 L557.5,401.9 L558.0,401.8 L558.5,401.8 L559.0,401.7 L559.5,401.6 L560.0,401.5 L560.5,401.4 L561.0,401.3 L561.5,401.2 L562.0,401.1 L562.5,401.1 L563.0,401.0 L563.5,400.9 L564.0,400.9 L564.5,400.8 L565.0,400.8 L565.5,400.7 L566.0,400.7 L566.5,400.6 L567.0,400.6 L567.5,400.5 L568.0,400.5 L568.5,400.4 L569.0,400.4 L569.5,400.4 L570.0,400.4 L570.5,400.4 L571.0,400.4 L571.5,400.4 L572.0,400.5 L572.5,400.5 L573.0,400.5 L573.5,400.6 L574.0,400.6 L574.5,400.7 L575.0,400.7 L575.5,400.7 L576.0,400.8 L576.5,400.8 L577.0,400.9 L577.5,400.9 L578.0,400.9 L578.5,401.0 L579.0,401.0 L579.5,401.0 L580.0,401.0 L580.5,401.0 L581.0,401.0 L581.5,401.0 L582.0,401.0 L582.5,400.9 L583.0,400.9 L583.5,400.9 L584.0,400.9 L584.5,400.8 L585.0,400.8 L585.5,400.8 L586.0,400.7 L586.5,400.7 L587.0,400.7 L587.5,400.7 L588.0,400.6 L588.5,400.6 L589.0,400.6 L589.5,400.6 L590.0,400.6 L590.5,400.6 L591.0,400.6 L591.5,400.7 L592.0,400.8 L592.5,400.9 L593.0,400.9 L593.5,401.1 L594.0,401.2 L594.5,401.3 L595.0,401.4 L595.5,401.5 L596.0,401.6 L596.5,401.7 L597.0,401.8 L597.5,401.9 L598.0,402.0 L598.5,402.1 L599.0,402.1 L599.5,402.2 L600.0,402.3 L600.5,402.4 L601.0,402.5 L601.5,402.6 L602.0,402.7 L602.5,402.7 L603.0,402.8 L603.5,402.9 L604.0,403.0 L604.5,403.1 L605.0,403.2 L605.5,403.3 L606.0,403.3 L606.5,403.4 L607.0,403.5 L607.5,403.6 L608.0,403.7 L608.5,403.8 L609.0,403.8 L609.5,403.9 L610.0,404.0 L610.5,404.1 L611.0,404.2 L611.5,404.3 L612.0,404.3 L612.5,404.4 L613.0,404.5 L613.5,404.6 L614.0,404.7 L614.5,404.7 L615.0,404.8 L615.5,404.9 L616.0,405.0 L616.5,405.1 L617.0,405.1 L617.5,405.2 L618.0,405.3 L618.5,405.4 L619.0,405.4 L619.5,405.5 L620.0,405.6 L620.5,405.7 L621.0,405.8 L621.5,405.8 L622.0,405.9 L622.5,406.0 L623.0,406.1 L623.5,406.1 L624.0,406.2 L624.5,406.3 L625.0,406.4 L625.5,406.4 L626.0,406.5 L626.5,406.6 L627.0,406.7 L627.5,406.8 L628.0,406.8 L628.5,406.9 L629.0,407.0 L629.5,407.1 L630.0,407.1 L630.5,407.2 L631.0,407.3 L631.5,407.3 L632.0,407.4 L632.5,407.5 L633.0,407.6 L633.5,407.6 L634.0,407.7 L634.5,407.8 L635.0,407.8 L635.5,407.9 L636.0,407.9 L636.5,408.0 L637.0,408.1 L637.5,408.1 L638.0,408.2 L638.5,408.2 L639.0,408.3 L639.5,408.3 L640.0,408.4 L640.5,408.5 L641.0,408.5 L641.5,408.5 L642.0,408.6 L642.5,408.6 L643.0,408.7 L643.5,408.7 L644.0,408.8 L644.5,408.8 L645.0,408.9 L645.5,408.9 L646.0,409.0 L646.5,409.0 L647.0,409.0 L647.5,409.1 L648.0,409.1 L648.5,409.2 L649.0,409.2 L649.5,409.2 L650.0,409.3 L650.5,409.3 L651.0,409.4 L651.5,409.4 L652.0,409.4 L652.5,409.5 L653.0,409.5 L653.5,409.5 L654.0,409.5 L654.5,409.6 L655.0,409.6 L655.5,409.6 L656.0,409.7 L656.5,409.7 L657.0,409.7 L657.5,409.7 L658.0,409.8 L658.5,409.8 L659.0,409.8 L659.5,409.8 L660.0,409.9 L660.5,409.9 L661.0,409.9 L661.5,409.9 L662.0,409.9 L662.5,409.9 L663.0,409.9 L663.5,409.9 L664.0,409.8 L664.5,409.8 L665.0,409.7 L665.5,409.7 L666.0,409.6 L666.5,409.6 L667.0,409.6 L667.5,409.5 L668.0,409.5 L668.5,409.4 L669.0,409.4 L669.5,409.4 L670.0,409.4 L670.5,409.4 L671.0,409.4 L671.5,409.5 L672.0,409.5 L672.5,409.5 L673.0,409.6 L673.5,409.7 L674.0,409.7 L674.5,409.8 L675.0,409.9 L675.5,409.9 L676.0,410.0 L676.5,410.0 L677.0,410.1 L677.5,410.2 L678.0,410.2 L678.5,410.2 L679.0,410.3 L679.5,410.3 L680.0,410.4 L680.5,410.4 L681.0,410.4 L681.5,410.5 L682.0,410.5 L682.5,410.5 L683.0,410.6 L683.5,410.6 L684.0,410.6 L684.5,410.7 L685.0,410.7 L685.5,410.7 L686.0,410.8 L686.5,410.8 L687.0,410.8 L687.5,410.9 L688.0,410.9 L688.5,410.9 L689.0,410.9 L689.5,411.0 L690.0,411.0 L690.5,411.0 L691.0,411.1 L691.5,411.1 L692.0,411.1 L692.5,411.2 L693.0,411.2 L693.5,411.2 L694.0,411.3 L694.5,411.3 L695.0,411.3 L695.5,411.4 L696.0,411.4 L696.5,411.4 L697.0,411.5 L697.5,411.5 L698.0,411.5 L698.5,411.6 L699.0,411.6 L699.5,411.6 L700.0,411.6 L700.5,411.7 L701.0,411.7 L701.5,411.7 L702.0,411.8 L702.5,411.8 L703.0,411.8 L703.5,411.8 L704.0,411.9 L704.5,411.9 L705.0,411.9 L705.5,411.9 L706.0,411.9 L706.5,411.9 L707.0,412.0 L707.5,412.0 L708.0,412.0 L708.5,412.0 L709.0,412.0 L709.5,412.0 L710.0,412.0 L710.5,412.0 L711.0,412.0 L711.5,412.0 L712.0,412.0 L712.5,412.0 L713.0,412.0 L713.5,412.0 L714.0,412.0 L714.5,412.0 L715.0,412.0 L715.5,412.0 L716.0,412.0 L716.5,412.0 L717.0,412.0 L717.5,412.0 L718.0,412.0 L718.5,412.0 L719.0,412.0 L719.5,412.0 L720.0,412.0 L720.5,412.0 L721.0,412.0 L721.5,412.0 L722.0,412.0 L722.5,412.0 L723.0,412.0 L723.5,412.0 L724.0,412.0 L724.5,412.0 L725.0,412.0 L725.5,411.9 L726.0,411.9 L726.5,411.9 L727.0,411.9 L727.5,411.9 L728.0,411.9 L728.5,411.9 L729.0,411.9 L729.5,411.9 L730.0,411.9 L730.5,411.9 L731.0,411.9 L731.5,411.9 L732.0,411.9 L732.5,411.9 L733.0,411.9 L733.5,411.9 L734.0,411.9 L734.5,411.9 L735.0,411.9 L735.5,411.9 L736.0,411.9 L736.5,411.9 L737.0,411.9 L737.5,411.9 L738.0,411.8 L738.5,411.8 L739.0,411.8 L739.5,411.8 L740.0,411.8 L740.5,411.8 L741.0,411.8 L741.5,411.8 L742.0,411.8 L742.5,411.8 L743.0,411.8 L743.5,411.8 L744.0,411.8 L744.5,411.8 L745.0,411.8 L745.5,411.8 L746.0,411.8 L746.5,411.8 L747.0,411.8 L747.5,411.7 L748.0,411.7 L748.5,411.7 L749.0,411.7 L749.5,411.7 L750.0,411.7 L750.5,411.7 L751.0,411.7 L751.5,411.7 L752.0,411.7 L752.5,411.7 L753.0,411.7 L753.5,411.7 L754.0,411.7 L754.5,411.7 L755.0,411.7 L755.5,411.7 L756.0,411.6 L756.5,411.6 L757.0,411.6 L757.5,411.6 L758.0,411.6 L758.5,411.6 L759.0,411.6 L759.5,411.6 L760.0,411.6 L760.5,411.6 L761.0,411.6 L761.5,411.6 L762.0,411.6 L762.5,411.6 L763.0,411.6 L763.5,411.6 L764.0,411.5 L764.5,411.5 L765.0,411.5 L765.5,411.5 L766.0,411.5 L766.5,411.5 L767.0,411.5 L767.5,411.5 L768.0,411.5 L768.5,411.5 L769.0,411.5 L769.5,411.5 L770.0,411.4 L770.5,411.4 L771.0,411.4 L771.5,411.4 L772.0,411.4 L772.5,411.4 L773.0,411.4 L773.5,411.4 L774.0,411.4 L774.5,411.4 L775.0,411.3 L775.5,411.3 L776.0,411.3 L776.5,411.3 L777.0,411.3 L777.5,411.3 L778.0,411.3 L778.5,411.3 L779.0,411.3 L779.5,411.2 L780.0,411.2 L780.5,411.2 L781.0,411.2 L781.5,411.2 L782.0,411.2 L782.5,411.2 L783.0,411.2 L783.5,411.1 L784.0,411.1 L784.5,411.1 L785.0,411.1 L785.5,411.1 L786.0,411.1 L786.5,411.1 L787.0,411.0 L787.5,411.0 L788.0,411.0 L788.5,411.0 L789.0,411.0 L789.5,411.0 L790.0,410.9 L790.5,410.9 L791.0,410.9 L791.5,410.9 L792.0,410.9 L792.5,410.9 L793.0,410.9 L793.5,410.8 L794.0,410.8 L794.5,410.8 L795.0,410.8 L795.5,410.8 L796.0,410.7 L796.5,410.7 L797.0,410.7 L797.5,410.7 L798.0,410.7 L798.5,410.7 L799.0,410.6 L799.5,410.6 L800.0,410.6 L800.5,410.6 L801.0,410.6 L801.5,410.5 L802.0,410.5 L802.5,410.5 L803.0,410.5 L803.5,410.4 L804.0,410.4 L804.5,410.4 L805.0,410.3 L805.5,410.3 L806.0,410.3 L806.5,410.2 L807.0,410.2 L807.5,410.2 L808.0,410.1 L808.5,410.1 L809.0,410.1 L809.5,410.0 L810.0,410.0 L810.5,410.0 L811.0,409.9 L811.5,409.9 L812.0,409.8 L812.5,409.8 L813.0,409.8 L813.5,409.7 L814.0,409.7 L814.5,409.6 L815.0,409.6 L815.5,409.6 L816.0,409.6 L816.5,409.6 L817.0,409.6 L817.5,409.6 L818.0,409.6 L818.5,409.7 L819.0,409.7 L819.5,409.7 L820.0,409.7 L820.5,409.7 L821.0,409.8 L821.5,409.8 L822.0,409.8 L822.5,409.8 L823.0,409.8 L823.5,409.9 L824.0,409.9 L824.5,409.9 L825.0,409.9 L825.5,409.9 L826.0,410.0 L826.5,410.0 L826.8,410.0" fill="none" stroke="#66DD00" stroke-width="3.0" stroke-linejoin="round" stroke-linecap="butt"/>
<path d="M200.0,461.0 L200.5,461.0 L201.0,461.0 L201.5,461.0 L202.0,461.0 L202.5,461.0 L203.0,461.0 L203.5,461.0 L204.0,461.0 L204.5,461.0 L205.0,461.0 L205.5,461.0 L206.0,461.0 L206.5,461.0 L207.0,461.0 L207.5,461.0 L208.0,461.0 L208.5,461.0 L209.0,460.9 L209.5,460.7 L210.0,460.6 L210.5,460.4 L211.0,460.2 L211.5,460.0 L212.0,459.8 L212.5,459.6 L213.0,459.4 L213.5,459.1 L214.0,458.9 L214.5,458.7 L215.0,458.4 L215.5,458.2 L216.0,458.0 L216.5,457.8 L217.0,457.6 L217.5,457.5 L218.0,457.3 L218.5,457.1 L219.0,456.9 L219.5,456.8 L220.0,456.6 L220.5,456.4 L221.0,456.3 L221.5,456.1 L222.0,456.0 L222.5,455.8 L223.0,455.7 L223.5,455.6 L224.0,455.4 L224.5,455.3 L225.0,455.2 L225.5,455.1 L226.0,455.0 L226.5,454.9 L227.0,454.8 L227.5,454.7 L228.0,454.6 L228.5,454.5 L229.0,454.4 L229.5,454.3 L230.0,454.3 L230.5,454.2 L231.0,454.1 L231.5,454.0 L232.0,453.9 L232.5,453.9 L233.0,453.8 L233.5,453.7 L234.0,453.6 L234.5,453.6 L235.0,453.5 L235.5,453.5 L236.0,453.4 L236.5,453.3 L237.0,453.3 L237.5,453.2 L238.0,453.2 L238.5,453.1 L239.0,453.1 L239.5,453.0 L240.0,453.0 L240.5,453.0 L241.0,452.9 L241.5,452.9 L242.0,452.9 L242.5,452.8 L243.0,452.8 L243.5,452.8 L244.0,452.7 L244.5,452.7 L245.0,452.7 L245.5,452.6 L246.0,452.6 L246.5,452.6 L247.0,452.6 L247.5,452.5 L248.0,452.5 L248.5,452.5 L249.0,452.5 L249.5,452.5 L250.0,452.4 L250.5,452.4 L251.0,452.4 L251.5,452.4 L252.0,452.3 L252.5,452.3 L253.0,452.3 L253.5,452.3 L254.0,452.3 L254.5,452.2 L255.0,452.2 L255.5,452.2 L256.0,452.2 L256.5,452.2 L257.0,452.1 L257.5,452.1 L258.0,452.1 L258.5,452.1 L259.0,452.0 L259.5,452.0 L260.0,452.0 L260.5,452.0 L261.0,451.9 L261.5,451.9 L262.0,451.9 L262.5,451.9 L263.0,451.8 L263.5,451.8 L264.0,451.8 L264.5,451.7 L265.0,451.7 L265.5,451.7 L266.0,451.7 L266.5,451.6 L267.0,451.6 L267.5,451.6 L268.0,451.5 L268.5,451.5 L269.0,451.5 L269.5,451.5 L270.0,451.5 L270.5,451.4 L271.0,451.4 L271.5,451.4 L272.0,451.4 L272.5,451.4 L273.0,451.4 L273.5,451.4 L274.0,451.4 L274.5,451.4 L275.0,451.4 L275.5,451.4 L276.0,451.4 L276.5,451.4 L277.0,451.4 L277.5,451.4 L278.0,451.4 L278.5,451.4 L279.0,451.4 L279.5,451.4 L280.0,451.4 L280.5,451.4 L281.0,451.4 L281.5,451.5 L282.0,451.5 L282.5,451.5 L283.0,451.5 L283.5,451.5 L284.0,451.5 L284.5,451.5 L285.0,451.5 L285.5,451.5 L286.0,451.5 L286.5,451.5 L287.0,451.5 L287.5,451.5 L288.0,451.6 L288.5,451.6 L289.0,451.6 L289.5,451.6 L290.0,451.6 L290.5,451.6 L291.0,451.6 L291.5,451.6 L292.0,451.6 L292.5,451.6 L293.0,451.7 L293.5,451.7 L294.0,451.7 L294.5,451.7 L295.0,451.7 L295.5,451.7 L296.0,451.7 L296.5,451.7 L297.0,451.7 L297.5,451.7 L298.0,451.8 L298.5,451.8 L299.0,451.8 L299.5,451.8 L300.0,451.8 L300.5,451.8 L301.0,451.8 L301.5,451.8 L302.0,451.9 L302.5,451.9 L303.0,451.9 L303.5,451.9 L304.0,451.9 L304.5,451.9 L305.0,452.0 L305.5,452.0 L306.0,452.0 L306.5,452.0 L307.0,452.1 L307.5,452.1 L308.0,452.1 L308.5,452.1 L309.0,452.2 L309.5,452.2 L310.0,452.2 L310.5,452.2 L311.0,452.3 L311.5,452.3 L312.0,452.3 L312.5,452.3 L313.0,452.4 L313.5,452.4 L314.0,452.4 L314.5,452.5 L315.0,452.5 L315.5,452.5 L316.0,452.5 L316.5,452.6 L317.0,452.6 L317.5,452.6 L318.0,452.6 L318.5,452.7 L319.0,452.7 L319.5,452.7 L320.0,452.7 L320.5,452.8 L321.0,452.8 L321.5,452.8 L322.0,452.8 L322.5,452.8 L323.0,452.9 L323.5,452.9 L324.0,452.9 L324.5,452.9 L325.0,452.9 L325.5,452.9 L326.0,453.0 L326.5,453.0 L327.0,453.0 L327.5,453.0 L328.0,453.0 L328.5,453.0 L329.0,453.0 L329.5,453.0 L330.0,453.0 L330.5,453.0 L331.0,453.0 L331.5,453.0 L332.0,453.0 L332.5,452.9 L333.0,452.9 L333.5,452.9 L334.0,452.9 L334.5,452.8 L335.0,452.8 L335.5,452.8 L336.0,452.7 L336.5,452.7 L337.0,452.7 L337.5,452.6 L338.0,452.6 L338.5,452.5 L339.0,452.5 L339.5,452.4 L340.0,452.4 L340.5,452.4 L341.0,452.3 L341.5,452.3 L342.0,452.2 L342.5,452.1 L343.0,452.1 L343.5,452.0 L344.0,451.9 L344.5,451.9 L345.0,451.8 L345.5,451.7 L346.0,451.6 L346.5,451.6 L347.0,451.5 L347.5,451.4 L348.0,451.3 L348.5,451.2 L349.0,451.2 L349.5,451.1 L350.0,451.0 L350.5,450.9 L351.0,450.8 L351.5,450.8 L352.0,450.7 L352.5,450.6 L353.0,450.5 L353.5,450.4 L354.0,450.4 L354.5,450.3 L355.0,450.2 L355.5,450.1 L356.0,450.0 L356.5,449.9 L357.0,449.8 L357.5,449.6 L358.0,449.5 L358.5,449.3 L359.0,449.2 L359.5,449.0 L360.0,448.9 L360.5,448.8 L361.0,448.7 L361.5,448.6 L362.0,448.6 L362.5,448.7 L363.0,448.8 L363.5,449.0 L364.0,449.3 L364.5,449.6 L365.0,449.9 L365.5,450.1 L366.0,450.4 L366.5,450.7 L367.0,450.9 L367.5,451.2 L368.0,451.5 L368.5,451.8 L369.0,452.1 L369.5,452.3 L370.0,452.4 L370.5,452.5 L371.0,452.6 L371.5,452.7 L372.0,452.8 L372.5,452.9 L373.0,452.9 L373.5,453.0 L374.0,453.1 L374.5,453.1 L375.0,453.2 L375.5,453.3 L376.0,453.3 L376.5,453.3 L377.0,453.4 L377.5,453.4 L378.0,453.4 L378.5,453.5 L379.0,453.5 L379.5,453.5 L380.0,453.5 L380.5,453.5 L381.0,453.5 L381.5,453.5 L382.0,453.4 L382.5,453.4 L383.0,453.3 L383.5,453.3 L384.0,453.2 L384.5,453.2 L385.0,453.1 L385.5,453.1 L386.0,453.0 L386.5,452.9 L387.0,452.9 L387.5,452.8 L388.0,452.7 L388.5,452.6 L389.0,452.5 L389.5,452.3 L390.0,452.2 L390.5,452.0 L391.0,451.8 L391.5,451.6 L392.0,451.4 L392.5,451.1 L393.0,450.9 L393.5,450.7 L394.0,450.5 L394.5,450.3 L395.0,450.1 L395.5,449.9 L396.0,449.8 L396.5,449.6 L397.0,449.6 L397.5,449.6 L398.0,449.7 L398.5,449.8 L399.0,449.9 L399.5,450.1 L400.0,450.2 L400.5,450.3 L401.0,450.4 L401.5,450.5 L402.0,450.6 L402.5,450.6 L403.0,450.7 L403.5,450.8 L404.0,450.9 L404.5,450.9 L405.0,451.0 L405.5,451.0 L406.0,451.0 L406.5,451.0 L407.0,450.9 L407.5,450.9 L408.0,450.8 L408.5,450.7 L409.0,450.6 L409.5,450.5 L410.0,450.4 L410.5,450.3 L411.0,450.2 L411.5,450.1 L412.0,450.0 L412.5,450.0 L413.0,449.9 L413.5,449.8 L414.0,449.7 L414.5,449.6 L415.0,449.6 L415.5,449.5 L416.0,449.4 L416.5,449.3 L417.0,449.2 L417.5,449.2 L418.0,449.1 L418.5,449.1 L419.0,449.0 L419.5,448.9 L420.0,448.9 L420.5,448.8 L421.0,448.7 L421.5,448.6 L422.0,448.5 L422.5,448.4 L423.0,448.3 L423.5,448.2 L424.0,448.0 L424.5,447.8 L425.0,447.4 L425.5,447.0 L426.0,446.5 L426.5,446.0 L427.0,445.5 L427.5,445.0 L428.0,444.4 L428.5,443.9 L429.0,443.2 L429.5,442.5 L430.0,441.7 L430.5,440.8 L431.0,439.7 L431.5,438.2 L432.0,435.8 L432.5,433.1 L433.0,430.3 L433.5,427.6 L434.0,424.3 L434.5,419.8 L435.0,414.8 L435.5,410.8 L436.0,409.0 L436.5,409.6 L437.0,412.1 L437.5,416.6 L438.0,421.8 L438.5,425.8 L439.0,428.9 L439.5,432.1 L440.0,435.5 L440.5,438.7 L441.0,441.1 L441.5,443.1 L442.0,444.5 L442.5,445.8 L443.0,446.8 L443.5,447.5 L444.0,448.1 L444.5,448.6 L445.0,449.0 L445.5,449.4 L446.0,449.6 L446.5,449.8 L447.0,450.0 L447.5,450.2 L448.0,450.3 L448.5,450.5 L449.0,450.6 L449.5,450.7 L450.0,450.8 L450.5,450.9 L451.0,451.0 L451.5,451.0 L452.0,451.0 L452.5,451.0 L453.0,451.0 L453.5,451.0 L454.0,451.0 L454.5,451.0 L455.0,450.9 L455.5,450.9 L456.0,450.9 L456.5,450.9 L457.0,450.9 L457.5,450.8 L458.0,450.8 L458.5,450.8 L459.0,450.7 L459.5,450.7 L460.0,450.7 L460.5,450.6 L461.0,450.6 L461.5,450.6 L462.0,450.5 L462.5,450.5 L463.0,450.4 L463.5,450.4 L464.0,450.4 L464.5,450.3 L465.0,450.3 L465.5,450.3 L466.0,450.2 L466.5,450.2 L467.0,450.2 L467.5,450.1 L468.0,450.1 L468.5,450.1 L469.0,450.0 L469.5,450.0 L470.0,450.0 L470.5,450.0 L471.0,450.0 L471.5,449.9 L472.0,449.9 L472.5,449.9 L473.0,449.9 L473.5,449.9 L474.0,449.9 L474.5,449.9 L475.0,449.8 L475.5,449.8 L476.0,449.8 L476.5,449.8 L477.0,449.8 L477.5,449.8 L478.0,449.8 L478.5,449.8 L479.0,449.7 L479.5,449.7 L480.0,449.7 L480.5,449.7 L481.0,449.7 L481.5,449.7 L482.0,449.7 L482.5,449.7 L483.0,449.6 L483.5,449.6 L484.0,449.6 L484.5,449.6 L485.0,449.6 L485.5,449.6 L486.0,449.6 L486.5,449.5 L487.0,449.5 L487.5,449.5 L488.0,449.5 L488.5,449.5 L489.0,449.4 L489.5,449.4 L490.0,449.4 L490.5,449.4 L491.0,449.3 L491.5,449.3 L492.0,449.3 L492.5,449.2 L493.0,449.2 L493.5,449.2 L494.0,449.1 L494.5,449.1 L495.0,449.0 L495.5,449.0 L496.0,448.9 L496.5,448.9 L497.0,448.9 L497.5,448.8 L498.0,448.8 L498.5,448.7 L499.0,448.7 L499.5,448.6 L500.0,448.6 L500.5,448.6 L501.0,448.5 L501.5,448.5 L502.0,448.4 L502.5,448.4 L503.0,448.3 L503.5,448.3 L504.0,448.2 L504.5,448.2 L505.0,448.1 L505.5,448.1 L506.0,448.1 L506.5,448.0 L507.0,448.0 L507.5,448.0 L508.0,448.0 L508.5,448.0 L509.0,448.0 L509.5,448.1 L510.0,448.1 L510.5,448.1 L511.0,448.2 L511.5,448.3 L512.0,448.3 L512.5,448.4 L513.0,448.5 L513.5,448.5 L514.0,448.6 L514.5,448.7 L515.0,448.7 L515.5,448.8 L516.0,448.8 L516.5,448.8 L517.0,448.9 L517.5,448.9 L518.0,448.9 L518.5,449.0 L519.0,449.0 L519.5,449.0 L520.0,449.1 L520.5,449.1 L521.0,449.1 L521.5,449.1 L522.0,449.2 L522.5,449.2 L523.0,449.2 L523.5,449.2 L524.0,449.2 L524.5,449.2 L525.0,449.2 L525.5,449.2 L526.0,449.1 L526.5,449.1 L527.0,449.0 L527.5,449.0 L528.0,448.9 L528.5,448.9 L529.0,448.8 L529.5,448.7 L530.0,448.7 L530.5,448.6 L531.0,448.5 L531.5,448.5 L532.0,448.4 L532.5,448.3 L533.0,448.3 L533.5,448.2 L534.0,448.1 L534.5,448.0 L535.0,447.9 L535.5,447.8 L536.0,447.8 L536.5,447.7 L537.0,447.6 L537.5,447.6 L538.0,447.6 L538.5,447.6 L539.0,447.7 L539.5,447.8 L540.0,447.9 L540.5,448.0 L541.0,448.1 L541.5,448.2 L542.0,448.3 L542.5,448.4 L543.0,448.4 L543.5,448.5 L544.0,448.5 L544.5,448.5 L545.0,448.6 L545.5,448.6 L546.0,448.6 L546.5,448.6 L547.0,448.6 L547.5,448.5 L548.0,448.4 L548.5,448.4 L549.0,448.3 L549.5,448.2 L550.0,448.1 L550.5,448.0 L551.0,447.8 L551.5,447.7 L552.0,447.6 L552.5,447.5 L553.0,447.3 L553.5,447.1 L554.0,446.9 L554.5,446.7 L555.0,446.5 L555.5,446.2 L556.0,446.0 L556.5,445.7 L557.0,445.5 L557.5,445.2 L558.0,444.9 L558.5,444.5 L559.0,444.2 L559.5,443.9 L560.0,443.5 L560.5,443.1 L561.0,442.7 L561.5,442.3 L562.0,441.8 L562.5,441.4 L563.0,440.9 L563.5,440.5 L564.0,440.0 L564.5,439.5 L565.0,439.0 L565.5,438.5 L566.0,438.0 L566.5,437.5 L567.0,437.0 L567.5,436.6 L568.0,436.2 L568.5,435.8 L569.0,435.4 L569.5,435.0 L570.0,434.7 L570.5,434.5 L571.0,434.4 L571.5,434.5 L572.0,434.7 L572.5,435.1 L573.0,435.6 L573.5,436.0 L574.0,436.5 L574.5,437.0 L575.0,437.6 L575.5,438.3 L576.0,439.0 L576.5,439.8 L577.0,440.4 L577.5,441.0 L578.0,441.5 L578.5,441.9 L579.0,442.2 L579.5,442.6 L580.0,442.8 L580.5,443.1 L581.0,443.4 L581.5,443.6 L582.0,443.8 L582.5,444.0 L583.0,444.2 L583.5,444.3 L584.0,444.5 L584.5,444.6 L585.0,444.8 L585.5,444.9 L586.0,445.0 L586.5,445.1 L587.0,445.2 L587.5,445.3 L588.0,445.4 L588.5,445.5 L589.0,445.6 L589.5,445.6 L590.0,445.7 L590.5,445.8 L591.0,445.9 L591.5,445.9 L592.0,446.0 L592.5,446.1 L593.0,446.1 L593.5,446.2 L594.0,446.3 L594.5,446.3 L595.0,446.4 L595.5,446.4 L596.0,446.5 L596.5,446.6 L597.0,446.6 L597.5,446.7 L598.0,446.7 L598.5,446.8 L599.0,446.9 L599.5,446.9 L600.0,447.0 L600.5,447.1 L601.0,447.1 L601.5,447.2 L602.0,447.3 L602.5,447.3 L603.0,447.4 L603.5,447.4 L604.0,447.5 L604.5,447.6 L605.0,447.6 L605.5,447.7 L606.0,447.7 L606.5,447.8 L607.0,447.8 L607.5,447.9 L608.0,447.9 L608.5,448.0 L609.0,448.1 L609.5,448.1 L610.0,448.2 L610.5,448.2 L611.0,448.3 L611.5,448.4 L612.0,448.4 L612.5,448.5 L613.0,448.6 L613.5,448.6 L614.0,448.7 L614.5,448.8 L615.0,448.8 L615.5,448.9 L616.0,449.0 L616.5,449.1 L617.0,449.2 L617.5,449.3 L618.0,449.4 L618.5,449.5 L619.0,449.6 L619.5,449.7 L620.0,449.8 L620.5,449.9 L621.0,450.0 L621.5,450.1 L622.0,450.3 L622.5,450.4 L623.0,450.5 L623.5,450.6 L624.0,450.7 L624.5,450.9 L625.0,451.0 L625.5,451.1 L626.0,451.2 L626.5,451.3 L627.0,451.4 L627.5,451.5 L628.0,451.6 L628.5,451.7 L629.0,451.8 L629.5,451.9 L630.0,452.0 L630.5,452.1 L631.0,452.2 L631.5,452.2 L632.0,452.3 L632.5,452.4 L633.0,452.5 L633.5,452.6 L634.0,452.7 L634.5,452.7 L635.0,452.8 L635.5,452.9 L636.0,453.0 L636.5,453.1 L637.0,453.1 L637.5,453.2 L638.0,453.3 L638.5,453.3 L639.0,453.4 L639.5,453.5 L640.0,453.5 L640.5,453.6 L641.0,453.6 L641.5,453.7 L642.0,453.7 L642.5,453.7 L643.0,453.8 L643.5,453.8 L644.0,453.8 L644.5,453.8 L645.0,453.8 L645.5,453.8 L646.0,453.8 L646.5,453.9 L647.0,453.9 L647.5,453.9 L648.0,453.9 L648.5,453.9 L649.0,453.9 L649.5,453.9 L650.0,453.9 L650.5,453.9 L651.0,453.9 L651.5,454.0 L652.0,454.0 L652.5,454.0 L653.0,454.0 L653.5,454.0 L654.0,454.0 L654.5,454.0 L655.0,454.0 L655.5,454.0 L656.0,454.0 L656.5,454.0 L657.0,454.0 L657.5,454.0 L658.0,454.0 L658.5,454.0 L659.0,454.0 L659.5,453.9 L660.0,453.9 L660.5,453.9 L661.0,453.8 L661.5,453.7 L662.0,453.7 L662.5,453.6 L663.0,453.5 L663.5,453.5 L664.0,453.4 L664.5,453.3 L665.0,453.2 L665.5,453.1 L666.0,453.0 L666.5,452.9 L667.0,452.8 L667.5,452.7 L668.0,452.6 L668.5,452.5 L669.0,452.5 L669.5,452.5 L670.0,452.6 L670.5,452.7 L671.0,452.8 L671.5,452.9 L672.0,453.0 L672.5,453.2 L673.0,453.3 L673.5,453.5 L674.0,453.6 L674.5,453.7 L675.0,453.9 L675.5,454.0 L676.0,454.2 L676.5,454.3 L677.0,454.5 L677.5,454.6 L678.0,454.8 L678.5,454.9 L679.0,455.1 L679.5,455.2 L680.0,455.3 L680.5,455.4 L681.0,455.5 L681.5,455.6 L682.0,455.7 L682.5,455.8 L683.0,455.9 L683.5,456.0 L684.0,456.1 L684.5,456.2 L685.0,456.2 L685.5,456.3 L686.0,456.4 L686.5,456.5 L687.0,456.6 L687.5,456.6 L688.0,456.7 L688.5,456.8 L689.0,456.9 L689.5,456.9 L690.0,457.0 L690.5,457.1 L691.0,457.2 L691.5,457.2 L692.0,457.3 L692.5,457.4 L693.0,457.4 L693.5,457.5 L694.0,457.6 L694.5,457.6 L695.0,457.7 L695.5,457.8 L696.0,457.8 L696.5,457.8 L697.0,457.9 L697.5,457.9 L698.0,458.0 L698.5,458.0 L699.0,458.0 L699.5,458.1 L700.0,458.1 L700.5,458.1 L701.0,458.2 L701.5,458.2 L702.0,458.2 L702.5,458.2 L703.0,458.3 L703.5,458.3 L704.0,458.3 L704.5,458.3 L705.0,458.4 L705.5,458.4 L706.0,458.4 L706.5,458.4 L707.0,458.5 L707.5,458.5 L708.0,458.5 L708.5,458.5 L709.0,458.6 L709.5,458.6 L710.0,458.6 L710.5,458.6 L711.0,458.6 L711.5,458.7 L712.0,458.7 L712.5,458.7 L713.0,458.8 L713.5,458.8 L714.0,458.8 L714.5,458.8 L715.0,458.9 L715.5,458.9 L716.0,458.9 L716.5,458.9 L717.0,458.9 L717.5,459.0 L718.0,459.0 L718.5,459.0 L719.0,459.0 L719.5,459.0 L720.0,459.0 L720.5,459.0 L721.0,459.0 L721.5,459.0 L722.0,459.0 L722.5,459.0 L723.0,459.0 L723.5,459.0 L724.0,459.0 L724.5,459.0 L725.0,459.0 L725.5,459.0 L726.0,459.0 L726.5,459.0 L727.0,459.0 L727.5,459.0 L728.0,459.0 L728.5,459.0 L729.0,459.0 L729.5,459.0 L730.0,459.0 L730.5,459.0 L731.0,459.0 L731.5,459.0 L732.0,459.0 L732.5,459.0 L733.0,459.0 L733.5,459.0 L734.0,459.0 L734.5,459.0 L735.0,459.0 L735.5,459.0 L736.0,459.0 L736.5,459.0 L737.0,459.0 L737.5,459.0 L738.0,459.0 L738.5,459.0 L739.0,459.0 L739.5,459.0 L740.0,459.0 L740.5,459.0 L741.0,459.0 L741.5,459.0 L742.0,459.0 L742.5,459.0 L743.0,459.0 L743.5,459.0 L744.0,459.0 L744.5,459.0 L745.0,459.0 L745.5,459.0 L746.0,459.0 L746.5,459.0 L747.0,459.0 L747.5,459.0 L748.0,459.0 L748.5,459.0 L749.0,459.0 L749.5,459.0 L750.0,459.0 L750.5,459.0 L751.0,459.0 L751.5,459.0 L752.0,459.0 L752.5,459.0 L753.0,459.0 L753.5,459.0 L754.0,459.0 L754.5,459.0 L755.0,459.0 L755.5,459.0 L756.0,459.0 L756.5,459.0 L757.0,459.0 L757.5,459.0 L758.0,459.0 L758.5,459.0 L759.0,459.0 L759.5,459.0 L760.0,459.0 L760.5,459.0 L761.0,459.0 L761.5,459.0 L762.0,459.0 L762.5,459.0 L763.0,459.0 L763.5,459.0 L764.0,459.0 L764.5,459.0 L765.0,459.0 L765.5,459.0 L766.0,459.0 L766.5,459.0 L767.0,459.0 L767.5,459.0 L768.0,458.9 L768.5,458.9 L769.0,458.9 L769.5,458.9 L770.0,458.9 L770.5,458.9 L771.0,458.9 L771.5,458.9 L772.0,458.9 L772.5,458.9 L773.0,458.9 L773.5,458.9 L774.0,458.8 L774.5,458.8 L775.0,458.8 L775.5,458.8 L776.0,458.8 L776.5,458.8 L777.0,458.8 L777.5,458.8 L778.0,458.8 L778.5,458.7 L779.0,458.7 L779.5,458.7 L780.0,458.7 L780.5,458.7 L781.0,458.7 L781.5,458.7 L782.0,458.6 L782.5,458.6 L783.0,458.6 L783.5,458.6 L784.0,458.6 L784.5,458.6 L785.0,458.5 L785.5,458.5 L786.0,458.5 L786.5,458.5 L787.0,458.5 L787.5,458.5 L788.0,458.4 L788.5,458.4 L789.0,458.4 L789.5,458.4 L790.0,458.4 L790.5,458.4 L791.0,458.3 L791.5,458.3 L792.0,458.3 L792.5,458.3 L793.0,458.3 L793.5,458.3 L794.0,458.2 L794.5,458.2 L795.0,458.2 L795.5,458.2 L796.0,458.2 L796.5,458.1 L797.0,458.1 L797.5,458.1 L798.0,458.1 L798.5,458.1 L799.0,458.0 L799.5,458.0 L800.0,458.0 L800.5,458.0 L801.0,458.0 L801.5,457.9 L802.0,457.9 L802.5,457.9 L803.0,457.8 L803.5,457.8 L804.0,457.8 L804.5,457.7 L805.0,457.7 L805.5,457.7 L806.0,457.6 L806.5,457.6 L807.0,457.6 L807.5,457.5 L808.0,457.5 L808.5,457.5 L809.0,457.4 L809.5,457.4 L810.0,457.4 L810.5,457.3 L811.0,457.3 L811.5,457.3 L812.0,457.3 L812.5,457.2 L813.0,457.2 L813.5,457.2 L814.0,457.2 L814.5,457.2 L815.0,457.2 L815.5,457.3 L816.0,457.3 L816.5,457.4 L817.0,457.4 L817.5,457.5 L818.0,457.6 L818.5,457.6 L819.0,457.7 L819.5,457.7 L820.0,457.8 L820.5,457.8 L821.0,457.9 L821.5,457.9 L822.0,458.0 L822.5,458.0 L823.0,458.1 L823.5,458.1 L824.0,458.2 L824.5,458.2 L825.0,458.2 L825.5,458.3 L826.0,458.3 L826.5,458.4 L826.8,458.4" fill="none" stroke="#1F497D" stroke-width="3.0" stroke-linejoin="round" stroke-linecap="butt"/>
<path d="M200.0,509.4 L200.5,509.4 L201.0,509.4 L201.5,509.4 L202.0,509.4 L202.5,509.4 L203.0,509.3 L203.5,509.3 L204.0,509.3 L204.5,509.3 L205.0,509.2 L205.5,509.2 L206.0,509.2 L206.5,509.1 L207.0,509.1 L207.5,509.0 L208.0,509.0 L208.5,508.9 L209.0,508.9 L209.5,508.7 L210.0,508.6 L210.5,508.5 L211.0,508.3 L211.5,508.2 L212.0,508.0 L212.5,507.8 L213.0,507.6 L213.5,507.4 L214.0,507.2 L214.5,507.0 L215.0,506.8 L215.5,506.6 L216.0,506.4 L216.5,506.2 L217.0,506.0 L217.5,505.8 L218.0,505.6 L218.5,505.4 L219.0,505.2 L219.5,505.1 L220.0,504.9 L220.5,504.7 L221.0,504.5 L221.5,504.4 L222.0,504.2 L222.5,504.0 L223.0,503.9 L223.5,503.7 L224.0,503.6 L224.5,503.4 L225.0,503.2 L225.5,503.1 L226.0,502.9 L226.5,502.8 L227.0,502.6 L227.5,502.5 L228.0,502.4 L228.5,502.3 L229.0,502.2 L229.5,502.1 L230.0,502.0 L230.5,501.9 L231.0,501.9 L231.5,501.8 L232.0,501.7 L232.5,501.7 L233.0,501.6 L233.5,501.6 L234.0,501.5 L234.5,501.5 L235.0,501.4 L235.5,501.3 L236.0,501.3 L236.5,501.3 L237.0,501.2 L237.5,501.2 L238.0,501.1 L238.5,501.1 L239.0,501.1 L239.5,501.0 L240.0,501.0 L240.5,501.0 L241.0,500.9 L241.5,500.9 L242.0,500.9 L242.5,500.9 L243.0,500.8 L243.5,500.8 L244.0,500.8 L244.5,500.8 L245.0,500.8 L245.5,500.8 L246.0,500.7 L246.5,500.7 L247.0,500.7 L247.5,500.7 L248.0,500.7 L248.5,500.7 L249.0,500.7 L249.5,500.7 L250.0,500.6 L250.5,500.6 L251.0,500.6 L251.5,500.6 L252.0,500.6 L252.5,500.6 L253.0,500.6 L253.5,500.6 L254.0,500.6 L254.5,500.6 L255.0,500.5 L255.5,500.5 L256.0,500.5 L256.5,500.5 L257.0,500.5 L257.5,500.5 L258.0,500.5 L258.5,500.5 L259.0,500.5 L259.5,500.5 L260.0,500.5 L260.5,500.5 L261.0,500.5 L261.5,500.4 L262.0,500.4 L262.5,500.4 L263.0,500.4 L263.5,500.4 L264.0,500.4 L264.5,500.4 L265.0,500.4 L265.5,500.4 L266.0,500.4 L266.5,500.4 L267.0,500.4 L267.5,500.4 L268.0,500.4 L268.5,500.4 L269.0,500.4 L269.5,500.4 L270.0,500.4 L270.5,500.4 L271.0,500.4 L271.5,500.4 L272.0,500.4 L272.5,500.4 L273.0,500.4 L273.5,500.4 L274.0,500.4 L274.5,500.4 L275.0,500.4 L275.5,500.4 L276.0,500.4 L276.5,500.4 L277.0,500.4 L277.5,500.4 L278.0,500.4 L278.5,500.4 L279.0,500.4 L279.5,500.4 L280.0,500.4 L280.5,500.4 L281.0,500.4 L281.5,500.4 L282.0,500.4 L282.5,500.4 L283.0,500.4 L283.5,500.4 L284.0,500.4 L284.5,500.4 L285.0,500.4 L285.5,500.4 L286.0,500.4 L286.5,500.4 L287.0,500.4 L287.5,500.4 L288.0,500.4 L288.5,500.4 L289.0,500.4 L289.5,500.4 L290.0,500.4 L290.5,500.4 L291.0,500.5 L291.5,500.5 L292.0,500.5 L292.5,500.5 L293.0,500.5 L293.5,500.5 L294.0,500.5 L294.5,500.5 L295.0,500.5 L295.5,500.5 L296.0,500.5 L296.5,500.5 L297.0,500.5 L297.5,500.5 L298.0,500.5 L298.5,500.5 L299.0,500.5 L299.5,500.5 L300.0,500.5 L300.5,500.5 L301.0,500.5 L301.5,500.5 L302.0,500.5 L302.5,500.5 L303.0,500.5 L303.5,500.5 L304.0,500.5 L304.5,500.5 L305.0,500.6 L305.5,500.6 L306.0,500.6 L306.5,500.6 L307.0,500.6 L307.5,500.6 L308.0,500.6 L308.5,500.6 L309.0,500.6 L309.5,500.6 L310.0,500.6 L310.5,500.6 L311.0,500.6 L311.5,500.6 L312.0,500.7 L312.5,500.7 L313.0,500.7 L313.5,500.7 L314.0,500.8 L314.5,500.8 L315.0,500.9 L315.5,500.9 L316.0,500.9 L316.5,501.0 L317.0,501.0 L317.5,501.1 L318.0,501.1 L318.5,501.2 L319.0,501.2 L319.5,501.3 L320.0,501.3 L320.5,501.3 L321.0,501.4 L321.5,501.4 L322.0,501.5 L322.5,501.5 L323.0,501.5 L323.5,501.5 L324.0,501.6 L324.5,501.6 L325.0,501.6 L325.5,501.6 L326.0,501.6 L326.5,501.6 L327.0,501.6 L327.5,501.6 L328.0,501.6 L328.5,501.6 L329.0,501.6 L329.5,501.5 L330.0,501.5 L330.5,501.5 L331.0,501.5 L331.5,501.5 L332.0,501.4 L332.5,501.4 L333.0,501.4 L333.5,501.4 L334.0,501.3 L334.5,501.3 L335.0,501.3 L335.5,501.3 L336.0,501.2 L336.5,501.2 L337.0,501.2 L337.5,501.1 L338.0,501.1 L338.5,501.1 L339.0,501.1 L339.5,501.0 L340.0,501.0 L340.5,501.0 L341.0,500.9 L341.5,500.9 L342.0,500.9 L342.5,500.8 L343.0,500.8 L343.5,500.7 L344.0,500.7 L344.5,500.7 L345.0,500.6 L345.5,500.6 L346.0,500.5 L346.5,500.5 L347.0,500.4 L347.5,500.4 L348.0,500.4 L348.5,500.3 L349.0,500.3 L349.5,500.2 L350.0,500.2 L350.5,500.2 L351.0,500.1 L351.5,500.1 L352.0,500.1 L352.5,500.0 L353.0,500.0 L353.5,500.0 L354.0,500.0 L354.5,499.9 L355.0,499.9 L355.5,499.8 L356.0,499.8 L356.5,499.7 L357.0,499.7 L357.5,499.6 L358.0,499.4 L358.5,499.3 L359.0,499.2 L359.5,499.1 L360.0,499.1 L360.5,499.0 L361.0,499.0 L361.5,499.0 L362.0,499.1 L362.5,499.3 L363.0,499.5 L363.5,499.7 L364.0,499.9 L364.5,500.0 L365.0,500.2 L365.5,500.3 L366.0,500.5 L366.5,500.6 L367.0,500.8 L367.5,500.9 L368.0,501.0 L368.5,501.1 L369.0,501.3 L369.5,501.3 L370.0,501.4 L370.5,501.5 L371.0,501.5 L371.5,501.5 L372.0,501.6 L372.5,501.6 L373.0,501.7 L373.5,501.7 L374.0,501.8 L374.5,501.8 L375.0,501.8 L375.5,501.9 L376.0,501.9 L376.5,501.9 L377.0,501.9 L377.5,502.0 L378.0,502.0 L378.5,502.0 L379.0,502.0 L379.5,502.0 L380.0,502.0 L380.5,502.0 L381.0,502.0 L381.5,502.0 L382.0,502.0 L382.5,502.0 L383.0,501.9 L383.5,501.9 L384.0,501.9 L384.5,501.9 L385.0,501.8 L385.5,501.8 L386.0,501.8 L386.5,501.7 L387.0,501.7 L387.5,501.6 L388.0,501.6 L388.5,501.5 L389.0,501.4 L389.5,501.3 L390.0,501.1 L390.5,500.9 L391.0,500.7 L391.5,500.6 L392.0,500.4 L392.5,500.3 L393.0,500.1 L393.5,499.9 L394.0,499.8 L394.5,499.6 L395.0,499.5 L395.5,499.4 L396.0,499.4 L396.5,499.4 L397.0,499.4 L397.5,499.5 L398.0,499.5 L398.5,499.6 L399.0,499.6 L399.5,499.7 L400.0,499.7 L400.5,499.8 L401.0,499.8 L401.5,499.8 L402.0,499.9 L402.5,499.9 L403.0,499.9 L403.5,499.9 L404.0,500.0 L404.5,500.0 L405.0,500.0 L405.5,500.0 L406.0,500.0 L406.5,500.0 L407.0,500.0 L407.5,500.0 L408.0,499.9 L408.5,499.9 L409.0,499.9 L409.5,499.8 L410.0,499.8 L410.5,499.7 L411.0,499.7 L411.5,499.6 L412.0,499.6 L412.5,499.5 L413.0,499.5 L413.5,499.4 L414.0,499.4 L414.5,499.4 L415.0,499.3 L415.5,499.3 L416.0,499.3 L416.5,499.3 L417.0,499.2 L417.5,499.2 L418.0,499.2 L418.5,499.1 L419.0,499.1 L419.5,499.1 L420.0,499.0 L420.5,498.9 L421.0,498.9 L421.5,498.7 L422.0,498.6 L422.5,498.5 L423.0,498.3 L423.5,498.2 L424.0,498.0 L424.5,497.8 L425.0,497.6 L425.5,497.4 L426.0,497.1 L426.5,496.7 L427.0,496.3 L427.5,495.9 L428.0,495.4 L428.5,494.8 L429.0,494.1 L429.5,493.4 L430.0,492.5 L430.5,491.6 L431.0,490.7 L431.5,489.6 L432.0,488.5 L432.5,487.3 L433.0,485.3 L433.5,482.1 L434.0,479.7 L434.5,477.5 L435.0,475.0 L435.5,473.4 L436.0,472.4 L436.5,472.7 L437.0,474.0 L437.5,475.9 L438.0,478.5 L438.5,480.5 L439.0,483.2 L439.5,486.3 L440.0,489.8 L440.5,492.4 L441.0,494.2 L441.5,495.5 L442.0,496.5 L442.5,497.3 L443.0,497.8 L443.5,498.2 L444.0,498.5 L444.5,498.7 L445.0,498.9 L445.5,499.1 L446.0,499.2 L446.5,499.3 L447.0,499.4 L447.5,499.4 L448.0,499.5 L448.5,499.5 L449.0,499.6 L449.5,499.6 L450.0,499.6 L450.5,499.6 L451.0,499.6 L451.5,499.6 L452.0,499.6 L452.5,499.6 L453.0,499.6 L453.5,499.6 L454.0,499.6 L454.5,499.5 L455.0,499.5 L455.5,499.5 L456.0,499.5 L456.5,499.5 L457.0,499.5 L457.5,499.4 L458.0,499.4 L458.5,499.4 L459.0,499.4 L459.5,499.4 L460.0,499.3 L460.5,499.3 L461.0,499.3 L461.5,499.3 L462.0,499.2 L462.5,499.2 L463.0,499.2 L463.5,499.2 L464.0,499.1 L464.5,499.1 L465.0,499.1 L465.5,499.1 L466.0,499.0 L466.5,499.0 L467.0,499.0 L467.5,498.9 L468.0,498.9 L468.5,498.9 L469.0,498.9 L469.5,498.8 L470.0,498.8 L470.5,498.8 L471.0,498.8 L471.5,498.7 L472.0,498.7 L472.5,498.7 L473.0,498.7 L473.5,498.6 L474.0,498.6 L474.5,498.6 L475.0,498.6 L475.5,498.5 L476.0,498.5 L476.5,498.5 L477.0,498.5 L477.5,498.5 L478.0,498.5 L478.5,498.4 L479.0,498.4 L479.5,498.4 L480.0,498.4 L480.5,498.4 L481.0,498.4 L481.5,498.4 L482.0,498.4 L482.5,498.3 L483.0,498.3 L483.5,498.3 L484.0,498.3 L484.5,498.3 L485.0,498.3 L485.5,498.3 L486.0,498.3 L486.5,498.3 L487.0,498.3 L487.5,498.2 L488.0,498.2 L488.5,498.2 L489.0,498.2 L489.5,498.2 L490.0,498.2 L490.5,498.2 L491.0,498.2 L491.5,498.2 L492.0,498.2 L492.5,498.2 L493.0,498.1 L493.5,498.1 L494.0,498.1 L494.5,498.1 L495.0,498.1 L495.5,498.1 L496.0,498.1 L496.5,498.1 L497.0,498.1 L497.5,498.1 L498.0,498.1 L498.5,498.1 L499.0,498.1 L499.5,498.1 L500.0,498.0 L500.5,498.0 L501.0,498.0 L501.5,498.0 L502.0,498.0 L502.5,498.0 L503.0,498.0 L503.5,498.0 L504.0,498.0 L504.5,498.0 L505.0,498.0 L505.5,498.0 L506.0,498.0 L506.5,498.0 L507.0,498.0 L507.5,498.0 L508.0,498.0 L508.5,498.0 L509.0,498.0 L509.5,498.0 L510.0,498.0 L510.5,498.0 L511.0,498.1 L511.5,498.1 L512.0,498.1 L512.5,498.1 L513.0,498.1 L513.5,498.2 L514.0,498.2 L514.5,498.2 L515.0,498.2 L515.5,498.3 L516.0,498.3 L516.5,498.3 L517.0,498.4 L517.5,498.4 L518.0,498.4 L518.5,498.4 L519.0,498.5 L519.5,498.5 L520.0,498.5 L520.5,498.5 L521.0,498.5 L521.5,498.6 L522.0,498.6 L522.5,498.6 L523.0,498.6 L523.5,498.6 L524.0,498.6 L524.5,498.6 L525.0,498.6 L525.5,498.6 L526.0,498.6 L526.5,498.5 L527.0,498.5 L527.5,498.5 L528.0,498.4 L528.5,498.4 L529.0,498.4 L529.5,498.3 L530.0,498.3 L530.5,498.2 L531.0,498.2 L531.5,498.1 L532.0,498.1 L532.5,498.0 L533.0,498.0 L533.5,497.9 L534.0,497.9 L534.5,497.8 L535.0,497.8 L535.5,497.7 L536.0,497.7 L536.5,497.7 L537.0,497.6 L537.5,497.6 L538.0,497.6 L538.5,497.6 L539.0,497.6 L539.5,497.6 L540.0,497.5 L540.5,497.5 L541.0,497.5 L541.5,497.5 L542.0,497.5 L542.5,497.5 L543.0,497.5 L543.5,497.5 L544.0,497.4 L544.5,497.4 L545.0,497.4 L545.5,497.4 L546.0,497.4 L546.5,497.3 L547.0,497.3 L547.5,497.3 L548.0,497.2 L548.5,497.2 L549.0,497.1 L549.5,497.1 L550.0,497.0 L550.5,496.9 L551.0,496.8 L551.5,496.7 L552.0,496.5 L552.5,496.3 L553.0,496.1 L553.5,495.9 L554.0,495.7 L554.5,495.4 L555.0,495.2 L555.5,495.0 L556.0,494.7 L556.5,494.4 L557.0,494.1 L557.5,493.8 L558.0,493.4 L558.5,493.1 L559.0,492.7 L559.5,492.4 L560.0,492.0 L560.5,491.6 L561.0,491.2 L561.5,490.8 L562.0,490.3 L562.5,489.9 L563.0,489.4 L563.5,489.0 L564.0,488.5 L564.5,488.0 L565.0,487.6 L565.5,487.2 L566.0,486.7 L566.5,486.2 L567.0,485.7 L567.5,485.3 L568.0,484.9 L568.5,484.6 L569.0,484.3 L569.5,484.0 L570.0,483.8 L570.5,483.6 L571.0,483.5 L571.5,483.6 L572.0,483.7 L572.5,484.0 L573.0,484.3 L573.5,484.7 L574.0,485.0 L574.5,485.4 L575.0,485.9 L575.5,486.4 L576.0,486.9 L576.5,487.5 L577.0,488.0 L577.5,488.5 L578.0,489.1 L578.5,489.7 L579.0,490.2 L579.5,490.6 L580.0,491.0 L580.5,491.3 L581.0,491.5 L581.5,491.8 L582.0,492.0 L582.5,492.2 L583.0,492.4 L583.5,492.6 L584.0,492.7 L584.5,492.9 L585.0,493.0 L585.5,493.1 L586.0,493.3 L586.5,493.4 L587.0,493.5 L587.5,493.6 L588.0,493.7 L588.5,493.8 L589.0,493.8 L589.5,493.9 L590.0,494.0 L590.5,494.1 L591.0,494.1 L591.5,494.2 L592.0,494.3 L592.5,494.3 L593.0,494.4 L593.5,494.4 L594.0,494.5 L594.5,494.6 L595.0,494.6 L595.5,494.7 L596.0,494.7 L596.5,494.7 L597.0,494.8 L597.5,494.8 L598.0,494.9 L598.5,494.9 L599.0,495.0 L599.5,495.0 L600.0,495.1 L600.5,495.1 L601.0,495.1 L601.5,495.2 L602.0,495.2 L602.5,495.3 L603.0,495.3 L603.5,495.4 L604.0,495.4 L604.5,495.4 L605.0,495.5 L605.5,495.5 L606.0,495.6 L606.5,495.6 L607.0,495.7 L607.5,495.7 L608.0,495.8 L608.5,495.8 L609.0,495.9 L609.5,495.9 L610.0,496.0 L610.5,496.1 L611.0,496.1 L611.5,496.2 L612.0,496.3 L612.5,496.3 L613.0,496.4 L613.5,496.5 L614.0,496.5 L614.5,496.6 L615.0,496.7 L615.5,496.8 L616.0,496.8 L616.5,496.9 L617.0,497.0 L617.5,497.1 L618.0,497.1 L618.5,497.2 L619.0,497.3 L619.5,497.4 L620.0,497.5 L620.5,497.5 L621.0,497.6 L621.5,497.7 L622.0,497.8 L622.5,497.9 L623.0,498.0 L623.5,498.0 L624.0,498.1 L624.5,498.2 L625.0,498.3 L625.5,498.3 L626.0,498.4 L626.5,498.5 L627.0,498.6 L627.5,498.6 L628.0,498.7 L628.5,498.8 L629.0,498.9 L629.5,498.9 L630.0,499.0 L630.5,499.1 L631.0,499.1 L631.5,499.2 L632.0,499.3 L632.5,499.3 L633.0,499.4 L633.5,499.5 L634.0,499.6 L634.5,499.6 L635.0,499.7 L635.5,499.8 L636.0,499.9 L636.5,499.9 L637.0,500.0 L637.5,500.1 L638.0,500.1 L638.5,500.2 L639.0,500.3 L639.5,500.4 L640.0,500.4 L640.5,500.5 L641.0,500.6 L641.5,500.6 L642.0,500.7 L642.5,500.7 L643.0,500.8 L643.5,500.9 L644.0,500.9 L644.5,501.0 L645.0,501.0 L645.5,501.1 L646.0,501.1 L646.5,501.2 L647.0,501.2 L647.5,501.2 L648.0,501.3 L648.5,501.3 L649.0,501.3 L649.5,501.4 L650.0,501.4 L650.5,501.4 L651.0,501.4 L651.5,501.5 L652.0,501.5 L652.5,501.5 L653.0,501.5 L653.5,501.6 L654.0,501.6 L654.5,501.6 L655.0,501.6 L655.5,501.6 L656.0,501.6 L656.5,501.7 L657.0,501.7 L657.5,501.7 L658.0,501.7 L658.5,501.7 L659.0,501.7 L659.5,501.7 L660.0,501.7 L660.5,501.7 L661.0,501.7 L661.5,501.6 L662.0,501.6 L662.5,501.5 L663.0,501.5 L663.5,501.4 L664.0,501.3 L664.5,501.3 L665.0,501.2 L665.5,501.1 L666.0,501.0 L666.5,500.9 L667.0,500.7 L667.5,500.6 L668.0,500.5 L668.5,500.4 L669.0,500.4 L669.5,500.4 L670.0,500.5 L670.5,500.6 L671.0,500.7 L671.5,500.8 L672.0,500.9 L672.5,501.1 L673.0,501.2 L673.5,501.4 L674.0,501.5 L674.5,501.6 L675.0,501.7 L675.5,501.9 L676.0,502.0 L676.5,502.1 L677.0,502.3 L677.5,502.4 L678.0,502.5 L678.5,502.7 L679.0,502.8 L679.5,502.9 L680.0,503.0 L680.5,503.1 L681.0,503.2 L681.5,503.3 L682.0,503.4 L682.5,503.4 L683.0,503.5 L683.5,503.6 L684.0,503.7 L684.5,503.8 L685.0,503.8 L685.5,503.9 L686.0,504.0 L686.5,504.0 L687.0,504.1 L687.5,504.2 L688.0,504.2 L688.5,504.3 L689.0,504.4 L689.5,504.4 L690.0,504.5 L690.5,504.6 L691.0,504.6 L691.5,504.7 L692.0,504.8 L692.5,504.8 L693.0,504.9 L693.5,504.9 L694.0,505.0 L694.5,505.1 L695.0,505.1 L695.5,505.2 L696.0,505.2 L696.5,505.3 L697.0,505.4 L697.5,505.4 L698.0,505.4 L698.5,505.5 L699.0,505.5 L699.5,505.6 L700.0,505.6 L700.5,505.6 L701.0,505.7 L701.5,505.7 L702.0,505.7 L702.5,505.7 L703.0,505.8 L703.5,505.8 L704.0,505.8 L704.5,505.9 L705.0,505.9 L705.5,505.9 L706.0,505.9 L706.5,506.0 L707.0,506.0 L707.5,506.0 L708.0,506.0 L708.5,506.1 L709.0,506.1 L709.5,506.1 L710.0,506.1 L710.5,506.1 L711.0,506.2 L711.5,506.2 L712.0,506.2 L712.5,506.2 L713.0,506.2 L713.5,506.2 L714.0,506.3 L714.5,506.3 L715.0,506.3 L715.5,506.3 L716.0,506.3 L716.5,506.3 L717.0,506.3 L717.5,506.4 L718.0,506.4 L718.5,506.4 L719.0,506.4 L719.5,506.4 L720.0,506.4 L720.5,506.4 L721.0,506.4 L721.5,506.4 L722.0,506.4 L722.5,506.4 L723.0,506.4 L723.5,506.4 L724.0,506.5 L724.5,506.5 L725.0,506.5 L725.5,506.5 L726.0,506.5 L726.5,506.5 L727.0,506.5 L727.5,506.5 L728.0,506.5 L728.5,506.5 L729.0,506.5 L729.5,506.5 L730.0,506.5 L730.5,506.5 L731.0,506.5 L731.5,506.5 L732.0,506.5 L732.5,506.5 L733.0,506.5 L733.5,506.5 L734.0,506.5 L734.5,506.5 L735.0,506.5 L735.5,506.5 L736.0,506.6 L736.5,506.6 L737.0,506.6 L737.5,506.6 L738.0,506.6 L738.5,506.6 L739.0,506.6 L739.5,506.6 L740.0,506.6 L740.5,506.6 L741.0,506.6 L741.5,506.6 L742.0,506.6 L742.5,506.7 L743.0,506.7 L743.5,506.7 L744.0,506.7 L744.5,506.7 L745.0,506.7 L745.5,506.8 L746.0,506.8 L746.5,506.8 L747.0,506.8 L747.5,506.8 L748.0,506.9 L748.5,506.9 L749.0,506.9 L749.5,506.9 L750.0,506.9 L750.5,507.0 L751.0,507.0 L751.5,507.0 L752.0,507.0 L752.5,507.0 L753.0,507.1 L753.5,507.1 L754.0,507.1 L754.5,507.1 L755.0,507.1 L755.5,507.1 L756.0,507.1 L756.5,507.2 L757.0,507.2 L757.5,507.2 L758.0,507.2 L758.5,507.2 L759.0,507.2 L759.5,507.2 L760.0,507.2 L760.5,507.2 L761.0,507.2 L761.5,507.2 L762.0,507.2 L762.5,507.2 L763.0,507.2 L763.5,507.2 L764.0,507.2 L764.5,507.2 L765.0,507.2 L765.5,507.2 L766.0,507.2 L766.5,507.2 L767.0,507.2 L767.5,507.2 L768.0,507.2 L768.5,507.2 L769.0,507.2 L769.5,507.2 L770.0,507.2 L770.5,507.2 L771.0,507.2 L771.5,507.2 L772.0,507.2 L772.5,507.1 L773.0,507.1 L773.5,507.1 L774.0,507.1 L774.5,507.1 L775.0,507.1 L775.5,507.1 L776.0,507.1 L776.5,507.1 L777.0,507.1 L777.5,507.1 L778.0,507.1 L778.5,507.1 L779.0,507.1 L779.5,507.1 L780.0,507.1 L780.5,507.1 L781.0,507.1 L781.5,507.1 L782.0,507.1 L782.5,507.1 L783.0,507.0 L783.5,507.0 L784.0,507.0 L784.5,507.0 L785.0,507.0 L785.5,507.0 L786.0,507.0 L786.5,507.0 L787.0,507.0 L787.5,507.0 L788.0,507.0 L788.5,507.0 L789.0,507.0 L789.5,507.0 L790.0,507.0 L790.5,506.9 L791.0,506.9 L791.5,506.9 L792.0,506.9 L792.5,506.9 L793.0,506.9 L793.5,506.9 L794.0,506.9 L794.5,506.9 L795.0,506.9 L795.5,506.9 L796.0,506.9 L796.5,506.9 L797.0,506.8 L797.5,506.8 L798.0,506.8 L798.5,506.8 L799.0,506.8 L799.5,506.8 L800.0,506.8 L800.5,506.8 L801.0,506.8 L801.5,506.8 L802.0,506.8 L802.5,506.8 L803.0,506.7 L803.5,506.7 L804.0,506.7 L804.5,506.7 L805.0,506.7 L805.5,506.7 L806.0,506.7 L806.5,506.7 L807.0,506.6 L807.5,506.6 L808.0,506.6 L808.5,506.6 L809.0,506.5 L809.5,506.5 L810.0,506.4 L810.5,506.4 L811.0,506.3 L811.5,506.2 L812.0,506.1 L812.5,506.1 L813.0,506.0 L813.5,506.0 L814.0,505.9 L814.5,505.9 L815.0,505.9 L815.5,505.9 L816.0,505.9 L816.5,506.0 L817.0,506.0 L817.5,506.1 L818.0,506.2 L818.5,506.2 L819.0,506.3 L819.5,506.4 L820.0,506.4 L820.5,506.5 L821.0,506.5 L821.5,506.5 L822.0,506.5 L822.5,506.5 L823.0,506.6 L823.5,506.6 L824.0,506.6 L824.5,506.6 L825.0,506.6 L825.5,506.6 L826.0,506.6 L826.5,506.6 L826.8,506.6" fill="none" stroke="#FFC000" stroke-width="3.0" stroke-linejoin="round" stroke-linecap="butt"/>
<path d="M200.0,557.0 L200.5,557.0 L201.0,557.0 L201.5,557.0 L202.0,557.0 L202.5,557.0 L203.0,556.9 L203.5,556.9 L204.0,556.9 L204.5,556.9 L205.0,556.8 L205.5,556.8 L206.0,556.8 L206.5,556.7 L207.0,556.7 L207.5,556.6 L208.0,556.6 L208.5,556.5 L209.0,556.5 L209.5,556.4 L210.0,556.3 L210.5,556.2 L211.0,556.1 L211.5,555.9 L212.0,555.8 L212.5,555.7 L213.0,555.5 L213.5,555.3 L214.0,555.1 L214.5,554.9 L215.0,554.8 L215.5,554.6 L216.0,554.4 L216.5,554.2 L217.0,554.1 L217.5,553.9 L218.0,553.8 L218.5,553.6 L219.0,553.4 L219.5,553.3 L220.0,553.1 L220.5,553.0 L221.0,552.9 L221.5,552.7 L222.0,552.6 L222.5,552.5 L223.0,552.4 L223.5,552.2 L224.0,552.1 L224.5,552.0 L225.0,551.9 L225.5,551.8 L226.0,551.7 L226.5,551.6 L227.0,551.5 L227.5,551.4 L228.0,551.3 L228.5,551.2 L229.0,551.1 L229.5,551.1 L230.0,551.0 L230.5,550.9 L231.0,550.9 L231.5,550.8 L232.0,550.8 L232.5,550.7 L233.0,550.6 L233.5,550.6 L234.0,550.5 L234.5,550.4 L235.0,550.4 L235.5,550.3 L236.0,550.3 L236.5,550.2 L237.0,550.2 L237.5,550.1 L238.0,550.1 L238.5,550.0 L239.0,550.0 L239.5,550.0 L240.0,549.9 L240.5,549.9 L241.0,549.9 L241.5,549.9 L242.0,549.8 L242.5,549.8 L243.0,549.8 L243.5,549.8 L244.0,549.8 L244.5,549.8 L245.0,549.8 L245.5,549.8 L246.0,549.8 L246.5,549.8 L247.0,549.8 L247.5,549.8 L248.0,549.8 L248.5,549.8 L249.0,549.8 L249.5,549.8 L250.0,549.8 L250.5,549.8 L251.0,549.8 L251.5,549.8 L252.0,549.8 L252.5,549.8 L253.0,549.8 L253.5,549.8 L254.0,549.8 L254.5,549.8 L255.0,549.8 L255.5,549.8 L256.0,549.8 L256.5,549.8 L257.0,549.8 L257.5,549.8 L258.0,549.8 L258.5,549.8 L259.0,549.8 L259.5,549.8 L260.0,549.8 L260.5,549.8 L261.0,549.8 L261.5,549.8 L262.0,549.8 L262.5,549.8 L263.0,549.8 L263.5,549.8 L264.0,549.8 L264.5,549.8 L265.0,549.8 L265.5,549.8 L266.0,549.8 L266.5,549.8 L267.0,549.8 L267.5,549.8 L268.0,549.8 L268.5,549.8 L269.0,549.8 L269.5,549.8 L270.0,549.8 L270.5,549.8 L271.0,549.8 L271.5,549.8 L272.0,549.8 L272.5,549.8 L273.0,549.8 L273.5,549.8 L274.0,549.8 L274.5,549.8 L275.0,549.8 L275.5,549.8 L276.0,549.8 L276.5,549.8 L277.0,549.8 L277.5,549.8 L278.0,549.8 L278.5,549.8 L279.0,549.8 L279.5,549.8 L280.0,549.8 L280.5,549.8 L281.0,549.8 L281.5,549.8 L282.0,549.8 L282.5,549.8 L283.0,549.8 L283.5,549.8 L284.0,549.8 L284.5,549.8 L285.0,549.8 L285.5,549.8 L286.0,549.8 L286.5,549.8 L287.0,549.8 L287.5,549.8 L288.0,549.8 L288.5,549.8 L289.0,549.8 L289.5,549.8 L290.0,549.8 L290.5,549.8 L291.0,549.8 L291.5,549.8 L292.0,549.8 L292.5,549.8 L293.0,549.8 L293.5,549.8 L294.0,549.8 L294.5,549.8 L295.0,549.8 L295.5,549.8 L296.0,549.8 L296.5,549.8 L297.0,549.8 L297.5,549.8 L298.0,549.8 L298.5,549.8 L299.0,549.8 L299.5,549.8 L300.0,549.8 L300.5,549.8 L301.0,549.8 L301.5,549.8 L302.0,549.8 L302.5,549.8 L303.0,549.8 L303.5,549.8 L304.0,549.8 L304.5,549.8 L305.0,549.8 L305.5,549.8 L306.0,549.8 L306.5,549.8 L307.0,549.8 L307.5,549.8 L308.0,549.8 L308.5,549.8 L309.0,549.8 L309.5,549.8 L310.0,549.8 L310.5,549.8 L311.0,549.8 L311.5,549.8 L312.0,549.8 L312.5,549.9 L313.0,549.9 L313.5,549.9 L314.0,549.9 L314.5,550.0 L315.0,550.0 L315.5,550.0 L316.0,550.1 L316.5,550.1 L317.0,550.1 L317.5,550.2 L318.0,550.2 L318.5,550.2 L319.0,550.3 L319.5,550.3 L320.0,550.3 L320.5,550.4 L321.0,550.4 L321.5,550.4 L322.0,550.5 L322.5,550.5 L323.0,550.5 L323.5,550.5 L324.0,550.6 L324.5,550.6 L325.0,550.6 L325.5,550.6 L326.0,550.6 L326.5,550.6 L327.0,550.6 L327.5,550.6 L328.0,550.6 L328.5,550.6 L329.0,550.6 L329.5,550.6 L330.0,550.5 L330.5,550.5 L331.0,550.5 L331.5,550.5 L332.0,550.5 L332.5,550.5 L333.0,550.4 L333.5,550.4 L334.0,550.4 L334.5,550.4 L335.0,550.3 L335.5,550.3 L336.0,550.3 L336.5,550.3 L337.0,550.3 L337.5,550.2 L338.0,550.2 L338.5,550.2 L339.0,550.2 L339.5,550.1 L340.0,550.1 L340.5,550.1 L341.0,550.1 L341.5,550.1 L342.0,550.1 L342.5,550.0 L343.0,550.0 L343.5,550.0 L344.0,550.0 L344.5,550.0 L345.0,550.0 L345.5,550.0 L346.0,550.0 L346.5,550.0 L347.0,550.0 L347.5,550.0 L348.0,550.0 L348.5,550.0 L349.0,550.0 L349.5,550.0 L350.0,550.1 L350.5,550.1 L351.0,550.1 L351.5,550.1 L352.0,550.1 L352.5,550.1 L353.0,550.2 L353.5,550.2 L354.0,550.2 L354.5,550.2 L355.0,550.3 L355.5,550.3 L356.0,550.3 L356.5,550.3 L357.0,550.4 L357.5,550.4 L358.0,550.4 L358.5,550.4 L359.0,550.5 L359.5,550.5 L360.0,550.5 L360.5,550.6 L361.0,550.6 L361.5,550.6 L362.0,550.6 L362.5,550.7 L363.0,550.7 L363.5,550.7 L364.0,550.8 L364.5,550.8 L365.0,550.8 L365.5,550.8 L366.0,550.9 L366.5,550.9 L367.0,550.9 L367.5,550.9 L368.0,550.9 L368.5,551.0 L369.0,551.0 L369.5,551.0 L370.0,551.0 L370.5,551.0 L371.0,551.0 L371.5,551.0 L372.0,551.1 L372.5,551.1 L373.0,551.1 L373.5,551.1 L374.0,551.1 L374.5,551.1 L375.0,551.1 L375.5,551.2 L376.0,551.2 L376.5,551.2 L377.0,551.2 L377.5,551.2 L378.0,551.2 L378.5,551.2 L379.0,551.2 L379.5,551.3 L380.0,551.3 L380.5,551.3 L381.0,551.3 L381.5,551.3 L382.0,551.3 L382.5,551.3 L383.0,551.3 L383.5,551.3 L384.0,551.3 L384.5,551.4 L385.0,551.4 L385.5,551.4 L386.0,551.4 L386.5,551.4 L387.0,551.4 L387.5,551.4 L388.0,551.4 L388.5,551.4 L389.0,551.4 L389.5,551.4 L390.0,551.4 L390.5,551.4 L391.0,551.4 L391.5,551.4 L392.0,551.3 L392.5,551.3 L393.0,551.3 L393.5,551.2 L394.0,551.2 L394.5,551.1 L395.0,551.1 L395.5,551.0 L396.0,551.0 L396.5,550.9 L397.0,550.9 L397.5,550.8 L398.0,550.8 L398.5,550.7 L399.0,550.7 L399.5,550.6 L400.0,550.6 L400.5,550.6 L401.0,550.5 L401.5,550.5 L402.0,550.5 L402.5,550.5 L403.0,550.4 L403.5,550.4 L404.0,550.4 L404.5,550.4 L405.0,550.3 L405.5,550.3 L406.0,550.3 L406.5,550.3 L407.0,550.3 L407.5,550.2 L408.0,550.2 L408.5,550.2 L409.0,550.2 L409.5,550.2 L410.0,550.1 L410.5,550.1 L411.0,550.1 L411.5,550.1 L412.0,550.1 L412.5,550.0 L413.0,550.0 L413.5,550.0 L414.0,550.0 L414.5,550.0 L415.0,549.9 L415.5,549.9 L416.0,549.9 L416.5,549.9 L417.0,549.9 L417.5,549.8 L418.0,549.8 L418.5,549.8 L419.0,549.7 L419.5,549.7 L420.0,549.7 L420.5,549.7 L421.0,549.6 L421.5,549.6 L422.0,549.6 L422.5,549.5 L423.0,549.5 L423.5,549.4 L424.0,549.4 L424.5,549.4 L425.0,549.3 L425.5,549.2 L426.0,549.2 L426.5,549.1 L427.0,549.0 L427.5,548.9 L428.0,548.8 L428.5,548.7 L429.0,548.6 L429.5,548.5 L430.0,548.3 L430.5,548.2 L431.0,548.0 L431.5,547.7 L432.0,547.4 L432.5,546.9 L433.0,546.5 L433.5,546.2 L434.0,545.9 L434.5,545.6 L435.0,545.3 L435.5,545.1 L436.0,545.0 L436.5,545.1 L437.0,545.3 L437.5,545.6 L438.0,546.0 L438.5,546.4 L439.0,546.9 L439.5,547.6 L440.0,548.2 L440.5,548.8 L441.0,549.0 L441.5,549.0 L442.0,549.1 L442.5,549.1 L443.0,549.1 L443.5,549.2 L444.0,549.2 L444.5,549.2 L445.0,549.2 L445.5,549.2 L446.0,549.2 L446.5,549.2 L447.0,549.2 L447.5,549.2 L448.0,549.2 L448.5,549.1 L449.0,549.1 L449.5,549.1 L450.0,549.1 L450.5,549.0 L451.0,549.0 L451.5,549.0 L452.0,549.0 L452.5,548.9 L453.0,548.9 L453.5,548.8 L454.0,548.8 L454.5,548.8 L455.0,548.7 L455.5,548.7 L456.0,548.7 L456.5,548.6 L457.0,548.6 L457.5,548.5 L458.0,548.5 L458.5,548.5 L459.0,548.5 L459.5,548.4 L460.0,548.4 L460.5,548.4 L461.0,548.4 L461.5,548.3 L462.0,548.3 L462.5,548.3 L463.0,548.3 L463.5,548.2 L464.0,548.2 L464.5,548.2 L465.0,548.2 L465.5,548.1 L466.0,548.1 L466.5,548.1 L467.0,548.1 L467.5,548.0 L468.0,548.0 L468.5,548.0 L469.0,548.0 L469.5,548.0 L470.0,547.9 L470.5,547.9 L471.0,547.9 L471.5,547.9 L472.0,547.8 L472.5,547.8 L473.0,547.8 L473.5,547.8 L474.0,547.7 L474.5,547.7 L475.0,547.7 L475.5,547.7 L476.0,547.6 L476.5,547.6 L477.0,547.6 L477.5,547.6 L478.0,547.6 L478.5,547.5 L479.0,547.5 L479.5,547.5 L480.0,547.5 L480.5,547.5 L481.0,547.4 L481.5,547.4 L482.0,547.4 L482.5,547.4 L483.0,547.4 L483.5,547.3 L484.0,547.3 L484.5,547.3 L485.0,547.3 L485.5,547.3 L486.0,547.3 L486.5,547.2 L487.0,547.2 L487.5,547.2 L488.0,547.2 L488.5,547.2 L489.0,547.2 L489.5,547.1 L490.0,547.1 L490.5,547.1 L491.0,547.1 L491.5,547.1 L492.0,547.1 L492.5,547.1 L493.0,547.1 L493.5,547.1 L494.0,547.1 L494.5,547.0 L495.0,547.0 L495.5,547.0 L496.0,547.0 L496.5,547.0 L497.0,547.0 L497.5,547.0 L498.0,547.0 L498.5,547.0 L499.0,547.0 L499.5,547.0 L500.0,547.0 L500.5,547.0 L501.0,547.0 L501.5,547.0 L502.0,547.0 L502.5,547.0 L503.0,547.0 L503.5,547.0 L504.0,547.1 L504.5,547.1 L505.0,547.1 L505.5,547.1 L506.0,547.1 L506.5,547.1 L507.0,547.2 L507.5,547.2 L508.0,547.2 L508.5,547.2 L509.0,547.3 L509.5,547.3 L510.0,547.3 L510.5,547.3 L511.0,547.4 L511.5,547.4 L512.0,547.4 L512.5,547.4 L513.0,547.5 L513.5,547.5 L514.0,547.5 L514.5,547.5 L515.0,547.6 L515.5,547.6 L516.0,547.6 L516.5,547.7 L517.0,547.7 L517.5,547.7 L518.0,547.7 L518.5,547.8 L519.0,547.8 L519.5,547.8 L520.0,547.8 L520.5,547.9 L521.0,547.9 L521.5,547.9 L522.0,547.9 L522.5,547.9 L523.0,548.0 L523.5,548.0 L524.0,548.0 L524.5,548.0 L525.0,548.0 L525.5,548.0 L526.0,548.1 L526.5,548.1 L527.0,548.1 L527.5,548.1 L528.0,548.1 L528.5,548.1 L529.0,548.2 L529.5,548.2 L530.0,548.2 L530.5,548.2 L531.0,548.2 L531.5,548.2 L532.0,548.3 L532.5,548.3 L533.0,548.3 L533.5,548.3 L534.0,548.3 L534.5,548.3 L535.0,548.3 L535.5,548.4 L536.0,548.4 L536.5,548.4 L537.0,548.4 L537.5,548.4 L538.0,548.4 L538.5,548.4 L539.0,548.4 L539.5,548.4 L540.0,548.4 L540.5,548.4 L541.0,548.4 L541.5,548.4 L542.0,548.3 L542.5,548.3 L543.0,548.3 L543.5,548.2 L544.0,548.2 L544.5,548.1 L545.0,548.0 L545.5,548.0 L546.0,547.9 L546.5,547.8 L547.0,547.7 L547.5,547.6 L548.0,547.6 L548.5,547.5 L549.0,547.4 L549.5,547.3 L550.0,547.2 L550.5,547.1 L551.0,547.0 L551.5,546.8 L552.0,546.7 L552.5,546.5 L553.0,546.4 L553.5,546.2 L554.0,546.0 L554.5,545.8 L555.0,545.6 L555.5,545.4 L556.0,545.2 L556.5,545.0 L557.0,544.7 L557.5,544.5 L558.0,544.2 L558.5,543.9 L559.0,543.6 L559.5,543.3 L560.0,543.0 L560.5,542.6 L561.0,542.3 L561.5,541.8 L562.0,541.4 L562.5,540.9 L563.0,540.4 L563.5,539.9 L564.0,539.4 L564.5,538.9 L565.0,538.4 L565.5,537.9 L566.0,537.3 L566.5,536.8 L567.0,536.2 L567.5,535.7 L568.0,535.2 L568.5,534.8 L569.0,534.4 L569.5,534.0 L570.0,533.6 L570.5,533.3 L571.0,533.2 L571.5,533.3 L572.0,533.5 L572.5,533.8 L573.0,534.2 L573.5,534.6 L574.0,535.0 L574.5,535.5 L575.0,536.0 L575.5,536.6 L576.0,537.3 L576.5,537.9 L577.0,538.4 L577.5,538.9 L578.0,539.4 L578.5,539.8 L579.0,540.2 L579.5,540.6 L580.0,541.0 L580.5,541.3 L581.0,541.6 L581.5,541.9 L582.0,542.2 L582.5,542.5 L583.0,542.7 L583.5,543.0 L584.0,543.2 L584.5,543.4 L585.0,543.6 L585.5,543.8 L586.0,544.0 L586.5,544.1 L587.0,544.3 L587.5,544.4 L588.0,544.6 L588.5,544.7 L589.0,544.8 L589.5,544.9 L590.0,545.0 L590.5,545.1 L591.0,545.2 L591.5,545.2 L592.0,545.3 L592.5,545.4 L593.0,545.4 L593.5,545.5 L594.0,545.6 L594.5,545.6 L595.0,545.7 L595.5,545.7 L596.0,545.8 L596.5,545.8 L597.0,545.9 L597.5,545.9 L598.0,546.0 L598.5,546.0 L599.0,546.1 L599.5,546.1 L600.0,546.2 L600.5,546.2 L601.0,546.2 L601.5,546.3 L602.0,546.3 L602.5,546.4 L603.0,546.4 L603.5,546.4 L604.0,546.5 L604.5,546.5 L605.0,546.6 L605.5,546.6 L606.0,546.6 L606.5,546.7 L607.0,546.7 L607.5,546.8 L608.0,546.8 L608.5,546.9 L609.0,546.9 L609.5,547.0 L610.0,547.0 L610.5,547.1 L611.0,547.1 L611.5,547.2 L612.0,547.2 L612.5,547.3 L613.0,547.3 L613.5,547.4 L614.0,547.4 L614.5,547.5 L615.0,547.5 L615.5,547.6 L616.0,547.6 L616.5,547.7 L617.0,547.7 L617.5,547.8 L618.0,547.8 L618.5,547.9 L619.0,547.9 L619.5,548.0 L620.0,548.0 L620.5,548.1 L621.0,548.1 L621.5,548.2 L622.0,548.3 L622.5,548.3 L623.0,548.4 L623.5,548.4 L624.0,548.5 L624.5,548.5 L625.0,548.5 L625.5,548.6 L626.0,548.6 L626.5,548.7 L627.0,548.7 L627.5,548.8 L628.0,548.8 L628.5,548.9 L629.0,548.9 L629.5,549.0 L630.0,549.0 L630.5,549.0 L631.0,549.1 L631.5,549.1 L632.0,549.2 L632.5,549.2 L633.0,549.3 L633.5,549.3 L634.0,549.4 L634.5,549.4 L635.0,549.5 L635.5,549.5 L636.0,549.5 L636.5,549.6 L637.0,549.6 L637.5,549.7 L638.0,549.7 L638.5,549.8 L639.0,549.8 L639.5,549.9 L640.0,549.9 L640.5,549.9 L641.0,550.0 L641.5,550.0 L642.0,550.1 L642.5,550.1 L643.0,550.1 L643.5,550.2 L644.0,550.2 L644.5,550.2 L645.0,550.3 L645.5,550.3 L646.0,550.3 L646.5,550.3 L647.0,550.3 L647.5,550.4 L648.0,550.4 L648.5,550.4 L649.0,550.4 L649.5,550.4 L650.0,550.4 L650.5,550.4 L651.0,550.4 L651.5,550.4 L652.0,550.4 L652.5,550.4 L653.0,550.4 L653.5,550.4 L654.0,550.4 L654.5,550.4 L655.0,550.3 L655.5,550.3 L656.0,550.3 L656.5,550.3 L657.0,550.3 L657.5,550.3 L658.0,550.3 L658.5,550.2 L659.0,550.2 L659.5,550.2 L660.0,550.2 L660.5,550.2 L661.0,550.1 L661.5,550.1 L662.0,550.1 L662.5,550.1 L663.0,550.1 L663.5,550.0 L664.0,550.0 L664.5,550.0 L665.0,549.9 L665.5,549.8 L666.0,549.7 L666.5,549.6 L667.0,549.5 L667.5,549.3 L668.0,549.2 L668.5,549.1 L669.0,549.1 L669.5,549.0 L670.0,549.0 L670.5,549.0 L671.0,549.1 L671.5,549.2 L672.0,549.3 L672.5,549.5 L673.0,549.6 L673.5,549.8 L674.0,550.0 L674.5,550.2 L675.0,550.3 L675.5,550.5 L676.0,550.6 L676.5,550.7 L677.0,550.8 L677.5,550.9 L678.0,551.0 L678.5,551.1 L679.0,551.2 L679.5,551.3 L680.0,551.4 L680.5,551.5 L681.0,551.6 L681.5,551.7 L682.0,551.8 L682.5,551.9 L683.0,552.0 L683.5,552.0 L684.0,552.1 L684.5,552.2 L685.0,552.3 L685.5,552.4 L686.0,552.4 L686.5,552.5 L687.0,552.6 L687.5,552.7 L688.0,552.7 L688.5,552.8 L689.0,552.9 L689.5,552.9 L690.0,553.0 L690.5,553.1 L691.0,553.1 L691.5,553.2 L692.0,553.3 L692.5,553.3 L693.0,553.4 L693.5,553.5 L694.0,553.5 L694.5,553.6 L695.0,553.6 L695.5,553.7 L696.0,553.8 L696.5,553.8 L697.0,553.9 L697.5,553.9 L698.0,554.0 L698.5,554.1 L699.0,554.1 L699.5,554.2 L700.0,554.2 L700.5,554.3 L701.0,554.3 L701.5,554.4 L702.0,554.4 L702.5,554.5 L703.0,554.5 L703.5,554.6 L704.0,554.6 L704.5,554.7 L705.0,554.7 L705.5,554.7 L706.0,554.8 L706.5,554.8 L707.0,554.9 L707.5,554.9 L708.0,554.9 L708.5,554.9 L709.0,555.0 L709.5,555.0 L710.0,555.0 L710.5,555.0 L711.0,555.0 L711.5,555.1 L712.0,555.1 L712.5,555.1 L713.0,555.1 L713.5,555.1 L714.0,555.1 L714.5,555.1 L715.0,555.2 L715.5,555.2 L716.0,555.2 L716.5,555.2 L717.0,555.2 L717.5,555.2 L718.0,555.3 L718.5,555.3 L719.0,555.3 L719.5,555.3 L720.0,555.3 L720.5,555.3 L721.0,555.3 L721.5,555.3 L722.0,555.4 L722.5,555.4 L723.0,555.4 L723.5,555.4 L724.0,555.4 L724.5,555.4 L725.0,555.4 L725.5,555.4 L726.0,555.5 L726.5,555.5 L727.0,555.5 L727.5,555.5 L728.0,555.5 L728.5,555.5 L729.0,555.5 L729.5,555.5 L730.0,555.5 L730.5,555.5 L731.0,555.5 L731.5,555.5 L732.0,555.5 L732.5,555.6 L733.0,555.6 L733.5,555.6 L734.0,555.6 L734.5,555.6 L735.0,555.6 L735.5,555.6 L736.0,555.6 L736.5,555.6 L737.0,555.6 L737.5,555.6 L738.0,555.6 L738.5,555.6 L739.0,555.6 L739.5,555.6 L740.0,555.6 L740.5,555.6 L741.0,555.6 L741.5,555.6 L742.0,555.6 L742.5,555.6 L743.0,555.6 L743.5,555.6 L744.0,555.6 L744.5,555.6 L745.0,555.6 L745.5,555.6 L746.0,555.6 L746.5,555.6 L747.0,555.6 L747.5,555.6 L748.0,555.6 L748.5,555.6 L749.0,555.6 L749.5,555.6 L750.0,555.6 L750.5,555.6 L751.0,555.6 L751.5,555.6 L752.0,555.6 L752.5,555.6 L753.0,555.6 L753.5,555.6 L754.0,555.6 L754.5,555.6 L755.0,555.6 L755.5,555.6 L756.0,555.6 L756.5,555.6 L757.0,555.6 L757.5,555.6 L758.0,555.6 L758.5,555.6 L759.0,555.6 L759.5,555.6 L760.0,555.6 L760.5,555.6 L761.0,555.6 L761.5,555.6 L762.0,555.6 L762.5,555.6 L763.0,555.6 L763.5,555.6 L764.0,555.6 L764.5,555.6 L765.0,555.6 L765.5,555.6 L766.0,555.6 L766.5,555.6 L767.0,555.6 L767.5,555.6 L768.0,555.6 L768.5,555.6 L769.0,555.6 L769.5,555.6 L770.0,555.6 L770.5,555.6 L771.0,555.6 L771.5,555.6 L772.0,555.6 L772.5,555.6 L773.0,555.6 L773.5,555.6 L774.0,555.6 L774.5,555.6 L775.0,555.6 L775.5,555.6 L776.0,555.6 L776.5,555.6 L777.0,555.6 L777.5,555.6 L778.0,555.6 L778.5,555.6 L779.0,555.6 L779.5,555.6 L780.0,555.6 L780.5,555.6 L781.0,555.6 L781.5,555.6 L782.0,555.6 L782.5,555.6 L783.0,555.6 L783.5,555.6 L784.0,555.6 L784.5,555.6 L785.0,555.6 L785.5,555.6 L786.0,555.6 L786.5,555.6 L787.0,555.6 L787.5,555.6 L788.0,555.6 L788.5,555.5 L789.0,555.5 L789.5,555.5 L790.0,555.5 L790.5,555.5 L791.0,555.5 L791.5,555.5 L792.0,555.5 L792.5,555.5 L793.0,555.5 L793.5,555.5 L794.0,555.5 L794.5,555.5 L795.0,555.5 L795.5,555.5 L796.0,555.5 L796.5,555.5 L797.0,555.5 L797.5,555.5 L798.0,555.5 L798.5,555.5 L799.0,555.5 L799.5,555.5 L800.0,555.5 L800.5,555.5 L801.0,555.5 L801.5,555.5 L802.0,555.5 L802.5,555.5 L803.0,555.5 L803.5,555.5 L804.0,555.5 L804.5,555.5 L805.0,555.5 L805.5,555.4 L806.0,555.4 L806.5,555.4 L807.0,555.4 L807.5,555.4 L808.0,555.4 L808.5,555.4 L809.0,555.4 L809.5,555.3 L810.0,555.3 L810.5,555.2 L811.0,555.2 L811.5,555.1 L812.0,555.1 L812.5,555.0 L813.0,555.0 L813.5,555.0 L814.0,554.9 L814.5,554.9 L815.0,554.9 L815.5,554.9 L816.0,554.9 L816.5,555.0 L817.0,555.0 L817.5,555.1 L818.0,555.1 L818.5,555.2 L819.0,555.2 L819.5,555.3 L820.0,555.3 L820.5,555.4 L821.0,555.4 L821.5,555.4 L822.0,555.4 L822.5,555.4 L823.0,555.5 L823.5,555.5 L824.0,555.5 L824.5,555.5 L825.0,555.5 L825.5,555.5 L826.0,555.5 L826.5,555.5 L826.8,555.5" fill="none" stroke="#FF0066" stroke-width="3.0" stroke-linejoin="round" stroke-linecap="butt"/>
<path d="M200.0,605.0 L200.5,605.0 L201.0,605.0 L201.5,605.0 L202.0,605.0 L202.5,605.0 L203.0,605.0 L203.5,605.0 L204.0,604.9 L204.5,604.9 L205.0,604.9 L205.5,604.9 L206.0,604.9 L206.5,604.9 L207.0,604.8 L207.5,604.8 L208.0,604.8 L208.5,604.8 L209.0,604.7 L209.5,604.6 L210.0,604.5 L210.5,604.4 L211.0,604.2 L211.5,604.1 L212.0,604.0 L212.5,603.9 L213.0,603.8 L213.5,603.6 L214.0,603.5 L214.5,603.4 L215.0,603.3 L215.5,603.1 L216.0,603.0 L216.5,602.9 L217.0,602.8 L217.5,602.6 L218.0,602.5 L218.5,602.4 L219.0,602.2 L219.5,602.1 L220.0,602.0 L220.5,601.9 L221.0,601.8 L221.5,601.7 L222.0,601.6 L222.5,601.5 L223.0,601.4 L223.5,601.4 L224.0,601.3 L224.5,601.2 L225.0,601.1 L225.5,601.1 L226.0,601.0 L226.5,600.9 L227.0,600.9 L227.5,600.8 L228.0,600.8 L228.5,600.7 L229.0,600.7 L229.5,600.6 L230.0,600.6 L230.5,600.6 L231.0,600.5 L231.5,600.5 L232.0,600.5 L232.5,600.4 L233.0,600.4 L233.5,600.4 L234.0,600.4 L234.5,600.3 L235.0,600.3 L235.5,600.3 L236.0,600.2 L236.5,600.2 L237.0,600.2 L237.5,600.2 L238.0,600.2 L238.5,600.1 L239.0,600.1 L239.5,600.1 L240.0,600.1 L240.5,600.1 L241.0,600.1 L241.5,600.0 L242.0,600.0 L242.5,600.0 L243.0,600.0 L243.5,600.0 L244.0,600.0 L244.5,600.0 L245.0,600.0 L245.5,600.0 L246.0,600.0 L246.5,600.0 L247.0,600.0 L247.5,600.0 L248.0,600.0 L248.5,600.0 L249.0,600.0 L249.5,600.0 L250.0,600.0 L250.5,600.0 L251.0,600.0 L251.5,600.0 L252.0,599.9 L252.5,599.9 L253.0,599.9 L253.5,599.9 L254.0,599.9 L254.5,599.9 L255.0,599.9 L255.5,599.9 L256.0,599.9 L256.5,599.9 L257.0,599.9 L257.5,599.9 L258.0,599.9 L258.5,599.9 L259.0,599.9 L259.5,599.9 L260.0,599.9 L260.5,599.9 L261.0,599.9 L261.5,599.9 L262.0,599.9 L262.5,599.9 L263.0,599.9 L263.5,599.9 L264.0,599.9 L264.5,599.9 L265.0,599.9 L265.5,599.9 L266.0,599.9 L266.5,599.9 L267.0,599.9 L267.5,599.9 L268.0,599.9 L268.5,599.9 L269.0,599.9 L269.5,599.9 L270.0,599.9 L270.5,599.9 L271.0,599.9 L271.5,599.9 L272.0,599.9 L272.5,599.9 L273.0,599.9 L273.5,599.9 L274.0,599.9 L274.5,599.8 L275.0,599.8 L275.5,599.8 L276.0,599.8 L276.5,599.8 L277.0,599.8 L277.5,599.8 L278.0,599.8 L278.5,599.8 L279.0,599.8 L279.5,599.8 L280.0,599.8 L280.5,599.8 L281.0,599.8 L281.5,599.8 L282.0,599.8 L282.5,599.8 L283.0,599.8 L283.5,599.8 L284.0,599.8 L284.5,599.8 L285.0,599.8 L285.5,599.8 L286.0,599.8 L286.5,599.8 L287.0,599.8 L287.5,599.8 L288.0,599.8 L288.5,599.8 L289.0,599.8 L289.5,599.8 L290.0,599.8 L290.5,599.8 L291.0,599.8 L291.5,599.8 L292.0,599.8 L292.5,599.8 L293.0,599.8 L293.5,599.8 L294.0,599.8 L294.5,599.8 L295.0,599.8 L295.5,599.8 L296.0,599.8 L296.5,599.8 L297.0,599.8 L297.5,599.8 L298.0,599.8 L298.5,599.8 L299.0,599.8 L299.5,599.8 L300.0,599.8 L300.5,599.8 L301.0,599.8 L301.5,599.8 L302.0,599.8 L302.5,599.8 L303.0,599.8 L303.5,599.8 L304.0,599.8 L304.5,599.8 L305.0,599.8 L305.5,599.8 L306.0,599.8 L306.5,599.8 L307.0,599.8 L307.5,599.8 L308.0,599.8 L308.5,599.8 L309.0,599.8 L309.5,599.8 L310.0,599.8 L310.5,599.8 L311.0,599.8 L311.5,599.8 L312.0,599.8 L312.5,599.8 L313.0,599.9 L313.5,599.9 L314.0,599.9 L314.5,599.9 L315.0,599.9 L315.5,600.0 L316.0,600.0 L316.5,600.0 L317.0,600.0 L317.5,600.1 L318.0,600.1 L318.5,600.1 L319.0,600.2 L319.5,600.2 L320.0,600.2 L320.5,600.2 L321.0,600.3 L321.5,600.3 L322.0,600.3 L322.5,600.3 L323.0,600.3 L323.5,600.4 L324.0,600.4 L324.5,600.4 L325.0,600.4 L325.5,600.4 L326.0,600.4 L326.5,600.4 L327.0,600.4 L327.5,600.4 L328.0,600.4 L328.5,600.4 L329.0,600.4 L329.5,600.3 L330.0,600.3 L330.5,600.3 L331.0,600.3 L331.5,600.3 L332.0,600.2 L332.5,600.2 L333.0,600.2 L333.5,600.1 L334.0,600.1 L334.5,600.1 L335.0,600.1 L335.5,600.0 L336.0,600.0 L336.5,600.0 L337.0,599.9 L337.5,599.9 L338.0,599.9 L338.5,599.9 L339.0,599.8 L339.5,599.8 L340.0,599.8 L340.5,599.7 L341.0,599.7 L341.5,599.7 L342.0,599.7 L342.5,599.7 L343.0,599.6 L343.5,599.6 L344.0,599.6 L344.5,599.6 L345.0,599.6 L345.5,599.6 L346.0,599.6 L346.5,599.6 L347.0,599.6 L347.5,599.6 L348.0,599.6 L348.5,599.7 L349.0,599.7 L349.5,599.7 L350.0,599.7 L350.5,599.8 L351.0,599.8 L351.5,599.9 L352.0,599.9 L352.5,599.9 L353.0,600.0 L353.5,600.0 L354.0,600.1 L354.5,600.1 L355.0,600.1 L355.5,600.2 L356.0,600.2 L356.5,600.2 L357.0,600.3 L357.5,600.3 L358.0,600.3 L358.5,600.4 L359.0,600.4 L359.5,600.4 L360.0,600.4 L360.5,600.4 L361.0,600.4 L361.5,600.4 L362.0,600.4 L362.5,600.4 L363.0,600.4 L363.5,600.4 L364.0,600.4 L364.5,600.5 L365.0,600.5 L365.5,600.5 L366.0,600.5 L366.5,600.5 L367.0,600.5 L367.5,600.5 L368.0,600.5 L368.5,600.5 L369.0,600.5 L369.5,600.5 L370.0,600.5 L370.5,600.5 L371.0,600.5 L371.5,600.5 L372.0,600.5 L372.5,600.5 L373.0,600.5 L373.5,600.5 L374.0,600.5 L374.5,600.5 L375.0,600.5 L375.5,600.6 L376.0,600.6 L376.5,600.6 L377.0,600.6 L377.5,600.6 L378.0,600.6 L378.5,600.6 L379.0,600.6 L379.5,600.6 L380.0,600.6 L380.5,600.6 L381.0,600.6 L381.5,600.6 L382.0,600.6 L382.5,600.6 L383.0,600.6 L383.5,600.6 L384.0,600.6 L384.5,600.6 L385.0,600.6 L385.5,600.6 L386.0,600.6 L386.5,600.6 L387.0,600.6 L387.5,600.6 L388.0,600.6 L388.5,600.6 L389.0,600.6 L389.5,600.6 L390.0,600.6 L390.5,600.6 L391.0,600.6 L391.5,600.6 L392.0,600.6 L392.5,600.6 L393.0,600.6 L393.5,600.6 L394.0,600.6 L394.5,600.5 L395.0,600.5 L395.5,600.5 L396.0,600.5 L396.5,600.5 L397.0,600.5 L397.5,600.5 L398.0,600.5 L398.5,600.4 L399.0,600.4 L399.5,600.4 L400.0,600.4 L400.5,600.4 L401.0,600.4 L401.5,600.4 L402.0,600.3 L402.5,600.3 L403.0,600.3 L403.5,600.3 L404.0,600.2 L404.5,600.2 L405.0,600.2 L405.5,600.2 L406.0,600.1 L406.5,600.1 L407.0,600.1 L407.5,600.0 L408.0,600.0 L408.5,600.0 L409.0,599.9 L409.5,599.9 L410.0,599.9 L410.5,599.8 L411.0,599.8 L411.5,599.8 L412.0,599.7 L412.5,599.7 L413.0,599.6 L413.5,599.6 L414.0,599.6 L414.5,599.5 L415.0,599.5 L415.5,599.4 L416.0,599.4 L416.5,599.4 L417.0,599.3 L417.5,599.3 L418.0,599.2 L418.5,599.2 L419.0,599.2 L419.5,599.1 L420.0,599.1 L420.5,599.0 L421.0,599.0 L421.5,599.0 L422.0,598.9 L422.5,598.9 L423.0,598.8 L423.5,598.8 L424.0,598.8 L424.5,598.7 L425.0,598.7 L425.5,598.7 L426.0,598.6 L426.5,598.6 L427.0,598.6 L427.5,598.5 L428.0,598.5 L428.5,598.5 L429.0,598.5 L429.5,598.4 L430.0,598.4 L430.5,598.4 L431.0,598.4 L431.5,598.3 L432.0,598.3 L432.5,598.3 L433.0,598.3 L433.5,598.3 L434.0,598.2 L434.5,598.2 L435.0,598.2 L435.5,598.2 L436.0,598.2 L436.5,598.1 L437.0,598.1 L437.5,598.1 L438.0,598.1 L438.5,598.1 L439.0,598.1 L439.5,598.1 L440.0,598.0 L440.5,598.0 L441.0,598.0 L441.5,598.0 L442.0,598.0 L442.5,598.0 L443.0,597.9 L443.5,597.9 L444.0,597.9 L444.5,597.9 L445.0,597.9 L445.5,597.8 L446.0,597.8 L446.5,597.8 L447.0,597.8 L447.5,597.7 L448.0,597.7 L448.5,597.7 L449.0,597.7 L449.5,597.6 L450.0,597.6 L450.5,597.6 L451.0,597.5 L451.5,597.5 L452.0,597.4 L452.5,597.4 L453.0,597.3 L453.5,597.2 L454.0,597.2 L454.5,597.1 L455.0,597.0 L455.5,597.0 L456.0,596.9 L456.5,596.8 L457.0,596.7 L457.5,596.7 L458.0,596.6 L458.5,596.5 L459.0,596.4 L459.5,596.3 L460.0,596.2 L460.5,596.1 L461.0,596.1 L461.5,596.0 L462.0,596.0 L462.5,596.0 L463.0,596.1 L463.5,596.2 L464.0,596.3 L464.5,596.4 L465.0,596.5 L465.5,596.5 L466.0,596.6 L466.5,596.6 L467.0,596.7 L467.5,596.7 L468.0,596.7 L468.5,596.8 L469.0,596.8 L469.5,596.8 L470.0,596.8 L470.5,596.8 L471.0,596.8 L471.5,596.8 L472.0,596.7 L472.5,596.7 L473.0,596.6 L473.5,596.6 L474.0,596.6 L474.5,596.5 L475.0,596.5 L475.5,596.4 L476.0,596.4 L476.5,596.4 L477.0,596.3 L477.5,596.3 L478.0,596.2 L478.5,596.2 L479.0,596.1 L479.5,596.1 L480.0,596.1 L480.5,596.0 L481.0,596.0 L481.5,596.0 L482.0,596.0 L482.5,596.0 L483.0,596.0 L483.5,596.0 L484.0,596.1 L484.5,596.1 L485.0,596.1 L485.5,596.2 L486.0,596.2 L486.5,596.3 L487.0,596.3 L487.5,596.4 L488.0,596.4 L488.5,596.5 L489.0,596.5 L489.5,596.6 L490.0,596.6 L490.5,596.6 L491.0,596.7 L491.5,596.7 L492.0,596.8 L492.5,596.8 L493.0,596.9 L493.5,596.9 L494.0,596.9 L494.5,597.0 L495.0,597.0 L495.5,597.0 L496.0,597.0 L496.5,597.0 L497.0,597.0 L497.5,597.0 L498.0,597.0 L498.5,597.0 L499.0,596.9 L499.5,596.9 L500.0,596.9 L500.5,596.9 L501.0,596.8 L501.5,596.8 L502.0,596.8 L502.5,596.7 L503.0,596.7 L503.5,596.7 L504.0,596.6 L504.5,596.6 L505.0,596.6 L505.5,596.5 L506.0,596.5 L506.5,596.5 L507.0,596.4 L507.5,596.4 L508.0,596.4 L508.5,596.4 L509.0,596.4 L509.5,596.3 L510.0,596.3 L510.5,596.3 L511.0,596.2 L511.5,596.2 L512.0,596.2 L512.5,596.2 L513.0,596.1 L513.5,596.1 L514.0,596.1 L514.5,596.1 L515.0,596.1 L515.5,596.0 L516.0,596.0 L516.5,596.0 L517.0,596.0 L517.5,596.0 L518.0,596.0 L518.5,596.0 L519.0,596.0 L519.5,596.0 L520.0,596.1 L520.5,596.1 L521.0,596.1 L521.5,596.2 L522.0,596.2 L522.5,596.2 L523.0,596.3 L523.5,596.3 L524.0,596.4 L524.5,596.5 L525.0,596.5 L525.5,596.6 L526.0,596.6 L526.5,596.7 L527.0,596.7 L527.5,596.8 L528.0,596.8 L528.5,596.9 L529.0,596.9 L529.5,597.0 L530.0,597.0 L530.5,597.0 L531.0,597.1 L531.5,597.1 L532.0,597.2 L532.5,597.2 L533.0,597.2 L533.5,597.3 L534.0,597.3 L534.5,597.3 L535.0,597.4 L535.5,597.4 L536.0,597.5 L536.5,597.5 L537.0,597.5 L537.5,597.5 L538.0,597.6 L538.5,597.6 L539.0,597.6 L539.5,597.6 L540.0,597.6 L540.5,597.6 L541.0,597.6 L541.5,597.6 L542.0,597.5 L542.5,597.5 L543.0,597.5 L543.5,597.4 L544.0,597.4 L544.5,597.4 L545.0,597.3 L545.5,597.3 L546.0,597.2 L546.5,597.2 L547.0,597.1 L547.5,597.1 L548.0,597.0 L548.5,596.9 L549.0,596.9 L549.5,596.8 L550.0,596.8 L550.5,596.7 L551.0,596.6 L551.5,596.5 L552.0,596.4 L552.5,596.3 L553.0,596.2 L553.5,596.1 L554.0,596.0 L554.5,595.9 L555.0,595.7 L555.5,595.6 L556.0,595.4 L556.5,595.2 L557.0,595.0 L557.5,594.7 L558.0,594.5 L558.5,594.3 L559.0,594.0 L559.5,593.7 L560.0,593.4 L560.5,593.1 L561.0,592.8 L561.5,592.4 L562.0,592.0 L562.5,591.6 L563.0,591.1 L563.5,590.7 L564.0,590.2 L564.5,589.6 L565.0,589.0 L565.5,588.3 L566.0,587.5 L566.5,586.6 L567.0,585.7 L567.5,584.9 L568.0,584.0 L568.5,583.1 L569.0,582.2 L569.5,581.3 L570.0,580.6 L570.5,580.0 L571.0,579.5 L571.5,579.2 L572.0,579.0 L572.5,579.2 L573.0,579.5 L573.5,580.0 L574.0,580.6 L574.5,581.6 L575.0,582.7 L575.5,583.8 L576.0,585.0 L576.5,586.2 L577.0,587.6 L577.5,588.9 L578.0,590.0 L578.5,590.9 L579.0,591.7 L579.5,592.4 L580.0,593.0 L580.5,593.5 L581.0,594.0 L581.5,594.4 L582.0,594.8 L582.5,595.1 L583.0,595.5 L583.5,595.7 L584.0,596.0 L584.5,596.2 L585.0,596.5 L585.5,596.7 L586.0,596.9 L586.5,597.1 L587.0,597.3 L587.5,597.5 L588.0,597.6 L588.5,597.7 L589.0,597.8 L589.5,597.9 L590.0,598.0 L590.5,598.0 L591.0,598.1 L591.5,598.1 L592.0,598.2 L592.5,598.2 L593.0,598.3 L593.5,598.3 L594.0,598.3 L594.5,598.4 L595.0,598.4 L595.5,598.4 L596.0,598.4 L596.5,598.5 L597.0,598.5 L597.5,598.5 L598.0,598.5 L598.5,598.6 L599.0,598.6 L599.5,598.6 L600.0,598.6 L600.5,598.6 L601.0,598.7 L601.5,598.7 L602.0,598.7 L602.5,598.7 L603.0,598.7 L603.5,598.7 L604.0,598.8 L604.5,598.8 L605.0,598.8 L605.5,598.8 L606.0,598.8 L606.5,598.9 L607.0,598.9 L607.5,598.9 L608.0,598.9 L608.5,598.9 L609.0,599.0 L609.5,599.0 L610.0,599.0 L610.5,599.0 L611.0,599.1 L611.5,599.1 L612.0,599.1 L612.5,599.1 L613.0,599.2 L613.5,599.2 L614.0,599.2 L614.5,599.3 L615.0,599.3 L615.5,599.3 L616.0,599.4 L616.5,599.4 L617.0,599.4 L617.5,599.5 L618.0,599.5 L618.5,599.5 L619.0,599.6 L619.5,599.6 L620.0,599.6 L620.5,599.7 L621.0,599.7 L621.5,599.7 L622.0,599.7 L622.5,599.8 L623.0,599.8 L623.5,599.8 L624.0,599.8 L624.5,599.9 L625.0,599.9 L625.5,599.9 L626.0,599.9 L626.5,599.9 L627.0,600.0 L627.5,600.0 L628.0,600.0 L628.5,600.0 L629.0,600.0 L629.5,600.0 L630.0,600.0 L630.5,600.0 L631.0,600.0 L631.5,600.0 L632.0,600.0 L632.5,600.0 L633.0,600.0 L633.5,600.0 L634.0,600.0 L634.5,600.0 L635.0,600.0 L635.5,600.0 L636.0,600.0 L636.5,600.0 L637.0,600.0 L637.5,600.0 L638.0,600.0 L638.5,600.0 L639.0,600.0 L639.5,600.0 L640.0,600.0 L640.5,600.0 L641.0,600.0 L641.5,600.0 L642.0,600.0 L642.5,600.0 L643.0,600.0 L643.5,600.0 L644.0,600.0 L644.5,600.0 L645.0,600.0 L645.5,600.0 L646.0,600.0 L646.5,600.0 L647.0,600.0 L647.5,600.0 L648.0,600.0 L648.5,600.0 L649.0,600.0 L649.5,600.0 L650.0,600.0 L650.5,600.0 L651.0,600.0 L651.5,600.0 L652.0,600.0 L652.5,600.0 L653.0,600.0 L653.5,600.0 L654.0,600.0 L654.5,600.0 L655.0,600.0 L655.5,600.0 L656.0,600.0 L656.5,600.0 L657.0,600.0 L657.5,599.9 L658.0,599.8 L658.5,599.8 L659.0,599.7 L659.5,599.6 L660.0,599.5 L660.5,599.3 L661.0,599.2 L661.5,599.1 L662.0,599.0 L662.5,598.9 L663.0,598.7 L663.5,598.6 L664.0,598.4 L664.5,598.3 L665.0,598.1 L665.5,597.9 L666.0,597.8 L666.5,597.7 L667.0,597.5 L667.5,597.3 L668.0,597.2 L668.5,597.0 L669.0,596.9 L669.5,596.8 L670.0,596.8 L670.5,596.8 L671.0,596.9 L671.5,597.0 L672.0,597.2 L672.5,597.3 L673.0,597.5 L673.5,597.6 L674.0,597.8 L674.5,598.0 L675.0,598.1 L675.5,598.3 L676.0,598.5 L676.5,598.7 L677.0,598.9 L677.5,599.1 L678.0,599.3 L678.5,599.5 L679.0,599.6 L679.5,599.7 L680.0,599.8 L680.5,600.0 L681.0,600.1 L681.5,600.2 L682.0,600.3 L682.5,600.4 L683.0,600.5 L683.5,600.5 L684.0,600.6 L684.5,600.7 L685.0,600.7 L685.5,600.8 L686.0,600.9 L686.5,600.9 L687.0,601.0 L687.5,601.0 L688.0,601.1 L688.5,601.1 L689.0,601.2 L689.5,601.2 L690.0,601.3 L690.5,601.3 L691.0,601.4 L691.5,601.4 L692.0,601.5 L692.5,601.5 L693.0,601.6 L693.5,601.6 L694.0,601.6 L694.5,601.7 L695.0,601.7 L695.5,601.7 L696.0,601.8 L696.5,601.8 L697.0,601.8 L697.5,601.9 L698.0,601.9 L698.5,601.9 L699.0,602.0 L699.5,602.0 L700.0,602.0 L700.5,602.0 L701.0,602.0 L701.5,602.1 L702.0,602.1 L702.5,602.1 L703.0,602.1 L703.5,602.1 L704.0,602.2 L704.5,602.2 L705.0,602.2 L705.5,602.2 L706.0,602.2 L706.5,602.2 L707.0,602.2 L707.5,602.3 L708.0,602.3 L708.5,602.3 L709.0,602.3 L709.5,602.3 L710.0,602.3 L710.5,602.3 L711.0,602.3 L711.5,602.3 L712.0,602.3 L712.5,602.3 L713.0,602.3 L713.5,602.4 L714.0,602.4 L714.5,602.4 L715.0,602.4 L715.5,602.4 L716.0,602.4 L716.5,602.4 L717.0,602.4 L717.5,602.4 L718.0,602.4 L718.5,602.4 L719.0,602.4 L719.5,602.4 L720.0,602.4 L720.5,602.4 L721.0,602.4 L721.5,602.4 L722.0,602.4 L722.5,602.4 L723.0,602.4 L723.5,602.4 L724.0,602.5 L724.5,602.5 L725.0,602.5 L725.5,602.5 L726.0,602.5 L726.5,602.5 L727.0,602.5 L727.5,602.5 L728.0,602.5 L728.5,602.5 L729.0,602.5 L729.5,602.5 L730.0,602.5 L730.5,602.5 L731.0,602.5 L731.5,602.5 L732.0,602.5 L732.5,602.5 L733.0,602.5 L733.5,602.5 L734.0,602.5 L734.5,602.5 L735.0,602.5 L735.5,602.5 L736.0,602.6 L736.5,602.6 L737.0,602.6 L737.5,602.6 L738.0,602.6 L738.5,602.6 L739.0,602.6 L739.5,602.6 L740.0,602.6 L740.5,602.6 L741.0,602.6 L741.5,602.6 L742.0,602.6 L742.5,602.6 L743.0,602.7 L743.5,602.7 L744.0,602.7 L744.5,602.7 L745.0,602.7 L745.5,602.7 L746.0,602.7 L746.5,602.7 L747.0,602.8 L747.5,602.8 L748.0,602.8 L748.5,602.8 L749.0,602.8 L749.5,602.8 L750.0,602.8 L750.5,602.8 L751.0,602.9 L751.5,602.9 L752.0,602.9 L752.5,602.9 L753.0,602.9 L753.5,602.9 L754.0,602.9 L754.5,602.9 L755.0,603.0 L755.5,603.0 L756.0,603.0 L756.5,603.0 L757.0,603.0 L757.5,603.0 L758.0,603.0 L758.5,603.0 L759.0,603.0 L759.5,603.0 L760.0,603.0 L760.5,603.0 L761.0,603.0 L761.5,603.0 L762.0,603.0 L762.5,603.0 L763.0,603.0 L763.5,603.0 L764.0,603.0 L764.5,603.0 L765.0,603.0 L765.5,603.0 L766.0,603.0 L766.5,603.0 L767.0,603.0 L767.5,603.0 L768.0,603.0 L768.5,603.0 L769.0,603.0 L769.5,603.0 L770.0,603.0 L770.5,603.0 L771.0,603.0 L771.5,603.0 L772.0,603.0 L772.5,603.0 L773.0,603.0 L773.5,603.0 L774.0,603.0 L774.5,603.0 L775.0,603.0 L775.5,603.0 L776.0,603.0 L776.5,603.0 L777.0,603.0 L777.5,603.0 L778.0,603.0 L778.5,603.0 L779.0,603.0 L779.5,603.0 L780.0,603.0 L780.5,603.0 L781.0,603.0 L781.5,603.0 L782.0,603.0 L782.5,603.0 L783.0,603.0 L783.5,603.0 L784.0,603.0 L784.5,603.0 L785.0,603.0 L785.5,603.0 L786.0,603.0 L786.5,603.0 L787.0,603.0 L787.5,603.0 L788.0,603.0 L788.5,603.0 L789.0,603.0 L789.5,603.0 L790.0,603.0 L790.5,603.0 L791.0,603.0 L791.5,603.0 L792.0,603.0 L792.5,603.0 L793.0,603.0 L793.5,603.0 L794.0,603.0 L794.5,603.0 L795.0,603.0 L795.5,603.0 L796.0,603.0 L796.5,603.0 L797.0,603.0 L797.5,603.0 L798.0,603.0 L798.5,603.0 L799.0,603.0 L799.5,603.0 L800.0,603.0 L800.5,603.0 L801.0,603.0 L801.5,603.0 L802.0,603.0 L802.5,603.0 L803.0,603.0 L803.5,603.0 L804.0,602.9 L804.5,602.9 L805.0,602.9 L805.5,602.9 L806.0,602.9 L806.5,602.9 L807.0,602.8 L807.5,602.8 L808.0,602.8 L808.5,602.8 L809.0,602.7 L809.5,602.7 L810.0,602.6 L810.5,602.6 L811.0,602.5 L811.5,602.5 L812.0,602.4 L812.5,602.4 L813.0,602.3 L813.5,602.3 L814.0,602.3 L814.5,602.3 L815.0,602.4 L815.5,602.4 L816.0,602.5 L816.5,602.6 L817.0,602.7 L817.5,602.8 L818.0,602.9 L818.5,603.0 L819.0,603.1 L819.5,603.2 L820.0,603.2 L820.5,603.2 L821.0,603.3 L821.5,603.3 L822.0,603.3 L822.5,603.4 L823.0,603.4 L823.5,603.4 L824.0,603.4 L824.5,603.5 L825.0,603.5 L825.5,603.5 L826.0,603.5 L826.5,603.5 L826.8,603.5" fill="none" stroke="#000000" stroke-width="3.0" stroke-linejoin="round" stroke-linecap="butt"/>
<text transform="translate(618.3,113) scale(1.113,1)" text-anchor="start" font-size="16.4" fill="#000" >Key:</text>
<text transform="translate(618.3,158.4) scale(1.113,1)" text-anchor="start" font-size="16.4" fill="#000" >Black – SnO<tspan font-size="11" dy="3">2</tspan><tspan dy="-3"> modes</tspan></text>
<text transform="translate(618.3,181.2) scale(1.113,1)" text-anchor="start" font-size="16.4" fill="#FF0000" >Red – ZnO modes</text>
<line x1="856.4" y1="161.8" x2="886" y2="161.8" stroke="#7030A0" stroke-width="2.6"/>
<text transform="translate(886.8,168.10000000000002) scale(1.014,1)" text-anchor="start" font-size="18" fill="#000" >100 wt.% ZnO</text>
<line x1="856.4" y1="242.2" x2="886" y2="242.2" stroke="#00B0F0" stroke-width="2.6"/>
<text transform="translate(886.8,248.50000000000003) scale(1.014,1)" text-anchor="start" font-size="18" fill="#000" >90 wt.% ZnO :</text>
<text transform="translate(886.8,269.3) scale(1.014,1)" text-anchor="start" font-size="18" fill="#000" >10 wt.% SnO2</text>
<line x1="856.4" y1="322.6" x2="886" y2="322.6" stroke="#66DD00" stroke-width="2.6"/>
<text transform="translate(886.8,328.90000000000003) scale(1.014,1)" text-anchor="start" font-size="18" fill="#000" >70 wt.% ZnO :</text>
<text transform="translate(886.8,349.70000000000005) scale(1.014,1)" text-anchor="start" font-size="18" fill="#000" >30 wt.% SnO2</text>
<line x1="856.4" y1="403.0" x2="886" y2="403.0" stroke="#1F497D" stroke-width="2.6"/>
<text transform="translate(886.8,409.3) scale(1.014,1)" text-anchor="start" font-size="18" fill="#000" >50 wt.% ZnO :</text>
<text transform="translate(886.8,430.1) scale(1.014,1)" text-anchor="start" font-size="18" fill="#000" >50 wt.% SnO2</text>
<line x1="856.4" y1="483.4" x2="886" y2="483.4" stroke="#FFC000" stroke-width="2.6"/>
<text transform="translate(886.8,489.70000000000005) scale(1.014,1)" text-anchor="start" font-size="18" fill="#000" >30 wt.% ZnO :</text>
<text transform="translate(886.8,510.50000000000006) scale(1.014,1)" text-anchor="start" font-size="18" fill="#000" >70 wt.% SnO2</text>
<line x1="856.4" y1="563.8" x2="886" y2="563.8" stroke="#FF0066" stroke-width="2.6"/>
<text transform="translate(886.8,570.0999999999999) scale(1.014,1)" text-anchor="start" font-size="18" fill="#000" >10 wt.% ZnO :</text>
<text transform="translate(886.8,590.8999999999999) scale(1.014,1)" text-anchor="start" font-size="18" fill="#000" >90 wt.% SnO2</text>
<line x1="856.4" y1="644.2" x2="886" y2="644.2" stroke="#000000" stroke-width="2.6"/>
<text transform="translate(886.8,650.5) scale(1.014,1)" text-anchor="start" font-size="18" fill="#000" >100 wt.% SnO2</text>
</svg></body></html>
